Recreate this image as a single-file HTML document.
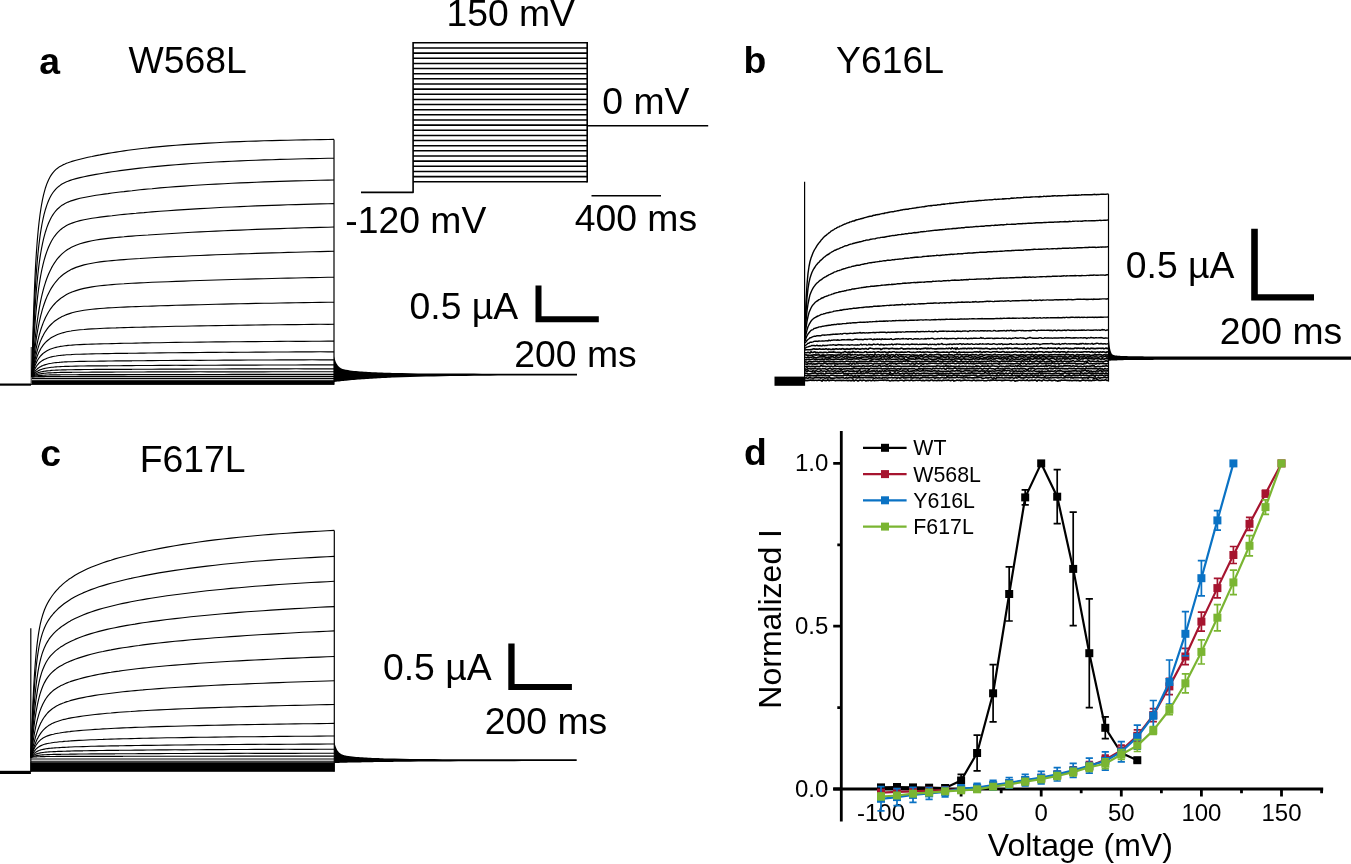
<!DOCTYPE html>
<html><head><meta charset="utf-8"><title>Figure</title>
<style>html,body{margin:0;padding:0;background:#fff}svg{display:block;will-change:transform}text{font-family:"Liberation Sans", sans-serif;fill:#000}</style></head><body>
<svg width="1351" height="864" viewBox="0 0 1351 864">
<rect width="1351" height="864" fill="#fff"/>
<g id="panel-a" stroke-linejoin="round">
<text x="39.19" y="73.5" font-size="37.33" font-weight="700">a</text>
<text x="128.54" y="73.3" font-size="37.33">W568L</text>
<line x1="413.1" y1="42.8" x2="587.2" y2="42.8" stroke="#000" stroke-width="1.55"/>
<line x1="413.1" y1="47.9" x2="587.2" y2="47.9" stroke="#000" stroke-width="1.55"/>
<line x1="413.1" y1="53.1" x2="587.2" y2="53.1" stroke="#000" stroke-width="1.55"/>
<line x1="413.1" y1="58.2" x2="587.2" y2="58.2" stroke="#000" stroke-width="1.55"/>
<line x1="413.1" y1="63.4" x2="587.2" y2="63.4" stroke="#000" stroke-width="1.55"/>
<line x1="413.1" y1="68.5" x2="587.2" y2="68.5" stroke="#000" stroke-width="1.55"/>
<line x1="413.1" y1="73.7" x2="587.2" y2="73.7" stroke="#000" stroke-width="1.55"/>
<line x1="413.1" y1="78.8" x2="587.2" y2="78.8" stroke="#000" stroke-width="1.55"/>
<line x1="413.1" y1="84" x2="587.2" y2="84" stroke="#000" stroke-width="1.55"/>
<line x1="413.1" y1="89.1" x2="587.2" y2="89.1" stroke="#000" stroke-width="1.55"/>
<line x1="413.1" y1="94.2" x2="587.2" y2="94.2" stroke="#000" stroke-width="1.55"/>
<line x1="413.1" y1="99.4" x2="587.2" y2="99.4" stroke="#000" stroke-width="1.55"/>
<line x1="413.1" y1="104.5" x2="587.2" y2="104.5" stroke="#000" stroke-width="1.55"/>
<line x1="413.1" y1="109.7" x2="587.2" y2="109.7" stroke="#000" stroke-width="1.55"/>
<line x1="413.1" y1="114.8" x2="587.2" y2="114.8" stroke="#000" stroke-width="1.55"/>
<line x1="413.1" y1="120" x2="587.2" y2="120" stroke="#000" stroke-width="1.55"/>
<line x1="413.1" y1="125.1" x2="587.2" y2="125.1" stroke="#000" stroke-width="1.55"/>
<line x1="413.1" y1="130.3" x2="587.2" y2="130.3" stroke="#000" stroke-width="1.55"/>
<line x1="413.1" y1="135.4" x2="587.2" y2="135.4" stroke="#000" stroke-width="1.55"/>
<line x1="413.1" y1="140.5" x2="587.2" y2="140.5" stroke="#000" stroke-width="1.55"/>
<line x1="413.1" y1="145.7" x2="587.2" y2="145.7" stroke="#000" stroke-width="1.55"/>
<line x1="413.1" y1="150.8" x2="587.2" y2="150.8" stroke="#000" stroke-width="1.55"/>
<line x1="413.1" y1="156" x2="587.2" y2="156" stroke="#000" stroke-width="1.55"/>
<line x1="413.1" y1="161.1" x2="587.2" y2="161.1" stroke="#000" stroke-width="1.55"/>
<line x1="413.1" y1="166.3" x2="587.2" y2="166.3" stroke="#000" stroke-width="1.55"/>
<line x1="413.1" y1="171.4" x2="587.2" y2="171.4" stroke="#000" stroke-width="1.55"/>
<line x1="413.1" y1="176.6" x2="587.2" y2="176.6" stroke="#000" stroke-width="1.55"/>
<line x1="413.1" y1="181.7" x2="587.2" y2="181.7" stroke="#000" stroke-width="1.55"/>
<polyline points="361,192.4 413.1,192.4 413.1,42.1" fill="none" stroke="#000" stroke-width="1.6" />
<polyline points="587.2,42.1 587.2,182.4" fill="none" stroke="#000" stroke-width="1.6" />
<polyline points="587.2,125.8 708.2,125.8" fill="none" stroke="#000" stroke-width="1.6" />
<polyline points="591.5,195.8 661,195.8" fill="none" stroke="#000" stroke-width="1.6" />
<text x="446.39" y="26.0" font-size="37.33">150 mV</text>
<text x="602.36" y="114.3" font-size="37.33">0 mV</text>
<text x="345.29" y="233.2" font-size="37.33">-120 mV</text>
<text x="574.71" y="231.4" font-size="37.33">400 ms</text>
<path d="M535.5 285.5h6v30.7h57.3v6h-63.3z" fill="#000"/>
<text x="409.54" y="318.9" font-size="37.33">0.5 µA</text>
<text x="514.25" y="367.3" font-size="37.33">200 ms</text>
<polyline points="0,384.6 31,384.6" fill="none" stroke="#000" stroke-width="2.2" />
<rect x="30.9" y="380.7" width="303.1" height="4.2" fill="#000"/>
<polyline points="31.3,384 31.3,347" fill="none" stroke="#555" stroke-width="1.3" />
<polyline points="32,376.9 32.5,353.1 33,332.9 33.5,315.7 34,301 34.5,288.2 35,277.1 35.5,267.4 36,258.7 36.5,251.1 37,244.2 37.5,238.1 38,232.5 38.5,227.4 39,222.8 39.5,218.7 40,214.8 40.5,211.3 41,208 41.5,205 42,202.3 42.5,199.7 43,197.3 43.5,195.1 44,193.1 45.5,187.7 47,183.4 48.5,179.9 50,177 51.5,174.6 53,172.6 54.5,170.9 56,169.4 57.5,168.2 59,167.1 60.5,166.2 62,165.4 63.5,164.6 65,164 66.5,163.3 68,162.8 69.5,162.2 71,161.7 72,161.4 76,160.3 80,159.2 84,158.2 88,157.3 92,156.5 96,155.6 100,154.9 104,154.1 108,153.4 112,152.7 116,152.1 120,151.5 124,150.9 128,150.3 132,149.8 136,149.3 140,148.8 144,148.3 148,147.9 152,147.4 160,146.6 168,145.9 176,145.2 184,144.6 192,144.1 200,143.6 208,143.1 216,142.7 224,142.3 232,141.9 240,141.6 248,141.3 256,141.1 264,140.8 272,140.6 280,140.4 288,140.2 296,140 304,139.9 312,139.7 320,139.6 328,139.5 334,139.4" fill="none" stroke="#000" stroke-width="1.15" />
<polyline points="32,376.9 32.5,358 33,341.6 33.5,327.3 34,314.8 34.5,303.8 35,294 35.5,285.4 36,277.6 36.5,270.6 37,264.3 37.5,258.5 38,253.3 38.5,248.5 39,244.1 39.5,240.1 40,236.4 40.5,232.9 41,229.8 41.5,226.8 42,224 42.5,221.5 43,219.1 43.5,216.8 44,214.7 45.5,209.2 47,204.6 48.5,200.7 50,197.5 51.5,194.8 53,192.5 54.5,190.6 56,188.9 57.5,187.4 59,186.2 60.5,185.1 62,184.1 63.5,183.3 65,182.5 66.5,181.8 68,181.2 69.5,180.6 71,180.1 72,179.8 76,178.6 80,177.6 84,176.7 88,175.9 92,175.1 96,174.4 100,173.7 104,173 108,172.4 112,171.8 116,171.2 120,170.6 124,170.1 128,169.6 132,169.1 136,168.6 140,168.1 144,167.7 148,167.3 152,166.9 160,166.1 168,165.4 176,164.7 184,164.1 192,163.5 200,163 208,162.5 216,162 224,161.6 232,161.2 240,160.9 248,160.5 256,160.2 264,159.9 272,159.7 280,159.4 288,159.2 296,159 304,158.8 312,158.6 320,158.5 328,158.3 334,158.2" fill="none" stroke="#000" stroke-width="1.15" />
<polyline points="32,376.9 32.5,362 33,348.9 33.5,337.3 34,326.9 34.5,317.6 35,309.3 35.5,301.8 36,295 36.5,288.8 37,283.2 37.5,278 38,273.3 38.5,268.9 39,264.9 39.5,261.2 40,257.7 40.5,254.5 41,251.5 41.5,248.7 42,246.1 42.5,243.6 43,241.3 43.5,239.2 44,237.1 45.5,231.7 47,227.1 48.5,223.2 50,219.9 51.5,217 53,214.6 54.5,212.5 56,210.6 57.5,209 59,207.7 60.5,206.4 62,205.3 63.5,204.4 65,203.5 66.5,202.8 68,202.1 69.5,201.5 71,200.9 72,200.6 76,199.4 80,198.3 84,197.5 88,196.7 92,196 96,195.3 100,194.7 104,194.1 108,193.6 112,193 116,192.5 120,192 124,191.6 128,191.1 132,190.7 136,190.2 140,189.8 144,189.4 148,189 152,188.7 160,187.9 168,187.3 176,186.6 184,186.1 192,185.5 200,185 208,184.5 216,184.1 224,183.7 232,183.3 240,182.9 248,182.6 256,182.2 264,181.9 272,181.6 280,181.4 288,181.1 296,180.9 304,180.7 312,180.5 320,180.3 328,180.1 334,180" fill="none" stroke="#000" stroke-width="1.15" />
<polyline points="32,376.9 32.5,365.7 33,355.7 33.5,346.6 34,338.3 34.5,330.9 35,324.1 35.5,317.8 36,312.1 36.5,306.9 37,302.1 37.5,297.6 38,293.5 38.5,289.6 39,286.1 39.5,282.8 40,279.6 40.5,276.7 41,274 41.5,271.4 42,269 42.5,266.8 43,264.6 43.5,262.6 44,260.7 45.5,255.5 47,251.1 48.5,247.2 50,243.9 51.5,241 53,238.5 54.5,236.3 56,234.3 57.5,232.6 59,231.1 60.5,229.7 62,228.5 63.5,227.4 65,226.5 66.5,225.6 68,224.8 69.5,224.1 71,223.5 72,223.1 76,221.7 80,220.6 84,219.7 88,219 92,218.3 96,217.7 100,217.1 104,216.6 108,216.1 112,215.7 116,215.2 120,214.8 124,214.4 128,214 132,213.6 136,213.3 140,212.9 144,212.6 148,212.2 152,211.9 160,211.3 168,210.7 176,210.1 184,209.6 192,209.1 200,208.6 208,208.2 216,207.7 224,207.3 232,207 240,206.6 248,206.3 256,205.9 264,205.6 272,205.4 280,205.1 288,204.8 296,204.6 304,204.4 312,204.1 320,203.9 328,203.7 334,203.6" fill="none" stroke="#000" stroke-width="1.15" />
<polyline points="32,376.9 32.5,369.5 33,362.7 33.5,356.4 34,350.6 34.5,345.1 35,340.1 35.5,335.4 36,331 36.5,326.9 37,323 37.5,319.4 38,316 38.5,312.8 39,309.8 39.5,306.9 40,304.3 40.5,301.7 41,299.3 41.5,297 42,294.9 42.5,292.8 43,290.8 43.5,289 44,287.2 45.5,282.3 47,278 48.5,274.3 50,270.9 51.5,267.9 53,265.3 54.5,262.9 56,260.7 57.5,258.7 59,257 60.5,255.4 62,253.9 63.5,252.6 65,251.4 66.5,250.3 68,249.3 69.5,248.4 71,247.5 72,247 76,245.2 80,243.7 84,242.6 88,241.6 92,240.7 96,240 100,239.4 104,238.9 108,238.4 112,237.9 116,237.5 120,237.1 124,236.8 128,236.4 132,236.1 136,235.8 140,235.5 144,235.2 148,235 152,234.7 160,234.2 168,233.7 176,233.2 184,232.7 192,232.3 200,231.9 208,231.5 216,231.1 224,230.8 232,230.4 240,230.1 248,229.7 256,229.4 264,229.1 272,228.9 280,228.6 288,228.3 296,228.1 304,227.8 312,227.6 320,227.4 328,227.2 334,227" fill="none" stroke="#000" stroke-width="1.15" />
<polyline points="32,376.9 32.5,371.2 33,365.9 33.5,361 34,356.3 34.5,352 35,348 35.5,344.2 36,340.7 36.5,337.4 37,334.2 37.5,331.3 38,328.5 38.5,325.9 39,323.4 39.5,321 40,318.8 40.5,316.7 41,314.7 41.5,312.8 42,310.9 42.5,309.2 43,307.6 43.5,306 44,304.5 45.5,300.3 47,296.6 48.5,293.4 50,290.5 51.5,287.9 53,285.6 54.5,283.5 56,281.6 57.5,279.8 59,278.2 60.5,276.8 62,275.5 63.5,274.3 65,273.2 66.5,272.2 68,271.3 69.5,270.4 71,269.6 72,269.1 76,267.4 80,266.1 84,264.9 88,264 92,263.2 96,262.5 100,261.9 104,261.4 108,261 112,260.6 116,260.2 120,259.9 124,259.6 128,259.3 132,259 136,258.7 140,258.5 144,258.2 148,258 152,257.8 160,257.3 168,256.9 176,256.5 184,256.2 192,255.8 200,255.5 208,255.1 216,254.8 224,254.5 232,254.2 240,253.9 248,253.7 256,253.4 264,253.1 272,252.9 280,252.7 288,252.4 296,252.2 304,252 312,251.8 320,251.6 328,251.4 334,251.3" fill="none" stroke="#000" stroke-width="1.15" />
<polyline points="32,376.9 32.5,372.6 33,368.6 33.5,364.9 34,361.4 34.5,358.1 35,355 35.5,352.1 36,349.4 36.5,346.8 37,344.4 37.5,342.1 38,339.9 38.5,337.8 39,335.9 39.5,334 40,332.3 40.5,330.6 41,329 41.5,327.5 42,326.1 42.5,324.7 43,323.4 43.5,322.1 44,320.9 45.5,317.6 47,314.7 48.5,312 50,309.7 51.5,307.6 53,305.7 54.5,304 56,302.4 57.5,301 59,299.7 60.5,298.5 62,297.4 63.5,296.4 65,295.5 66.5,294.6 68,293.8 69.5,293.1 71,292.4 72,292 76,290.6 80,289.4 84,288.4 88,287.6 92,286.9 96,286.3 100,285.8 104,285.4 108,285 112,284.6 116,284.3 120,284 124,283.8 128,283.5 132,283.3 136,283.1 140,282.9 144,282.7 148,282.5 152,282.3 160,282 168,281.7 176,281.4 184,281.1 192,280.8 200,280.5 208,280.3 216,280 224,279.8 232,279.5 240,279.3 248,279.1 256,278.9 264,278.7 272,278.5 280,278.3 288,278.1 296,278 304,277.8 312,277.6 320,277.5 328,277.3 334,277.2" fill="none" stroke="#000" stroke-width="1.15" />
<polyline points="32,376.9 32.5,373.5 33,370.4 33.5,367.4 34,364.7 34.5,362.1 35,359.7 35.5,357.5 36,355.4 36.5,353.4 37,351.5 37.5,349.8 38,348.1 38.5,346.5 39,345.1 39.5,343.7 40,342.3 40.5,341.1 41,339.9 41.5,338.8 42,337.7 42.5,336.6 43,335.7 43.5,334.7 44,333.8 45.5,331.3 47,329.2 48.5,327.2 50,325.5 51.5,324 53,322.6 54.5,321.3 56,320.2 57.5,319.2 59,318.2 60.5,317.4 62,316.6 63.5,315.9 65,315.2 66.5,314.6 68,314.1 69.5,313.6 71,313.1 72,312.8 76,311.8 80,311 84,310.3 88,309.7 92,309.3 96,308.9 100,308.5 104,308.2 108,307.9 112,307.7 116,307.5 120,307.3 124,307.1 128,306.9 132,306.8 136,306.6 140,306.5 144,306.3 148,306.2 152,306.1 160,305.8 168,305.6 176,305.3 184,305.1 192,304.9 200,304.7 208,304.5 216,304.3 224,304.1 232,303.9 240,303.8 248,303.6 256,303.4 264,303.3 272,303.2 280,303 288,302.9 296,302.8 304,302.6 312,302.5 320,302.4 328,302.3 334,302.2" fill="none" stroke="#000" stroke-width="1.15" />
<polyline points="32,376.9 32.5,374.1 33,371.5 33.5,369.1 34,366.9 34.5,364.9 35,363 35.5,361.3 36,359.7 36.5,358.2 37,356.8 37.5,355.5 38,354.3 38.5,353.1 39,352 39.5,351 40,350.1 40.5,349.2 41,348.3 41.5,347.5 42,346.8 42.5,346.1 43,345.4 43.5,344.7 44,344.1 45.5,342.4 47,341 48.5,339.7 50,338.6 51.5,337.6 53,336.7 54.5,335.9 56,335.2 57.5,334.5 59,334 60.5,333.5 62,333 63.5,332.6 65,332.2 66.5,331.8 68,331.5 69.5,331.2 71,331 72,330.8 76,330.3 80,329.8 84,329.5 88,329.1 92,328.9 96,328.7 100,328.5 104,328.3 108,328.1 112,328 116,327.9 120,327.7 124,327.6 128,327.5 132,327.4 136,327.3 140,327.2 144,327.1 148,327 152,326.9 160,326.7 168,326.5 176,326.3 184,326.2 192,326 200,325.9 208,325.7 216,325.6 224,325.5 232,325.4 240,325.2 248,325.1 256,325 264,324.9 272,324.8 280,324.7 288,324.6 296,324.6 304,324.5 312,324.4 320,324.3 328,324.3 334,324.2" fill="none" stroke="#000" stroke-width="1.15" />
<polyline points="32,376.9 32.5,374.6 33,372.4 33.5,370.5 34,368.8 34.5,367.3 35,365.8 35.5,364.5 36,363.4 36.5,362.3 37,361.3 37.5,360.3 38,359.5 38.5,358.7 39,358 39.5,357.3 40,356.6 40.5,356 41,355.5 41.5,355 42,354.5 42.5,354 43,353.5 43.5,353.1 44,352.7 45.5,351.7 47,350.8 48.5,350 50,349.3 51.5,348.7 53,348.2 54.5,347.8 56,347.4 57.5,347 59,346.7 60.5,346.4 62,346.2 63.5,346 65,345.8 66.5,345.6 68,345.4 69.5,345.3 71,345.2 72,345.1 76,344.8 80,344.6 84,344.4 88,344.3 92,344.1 96,344 100,343.9 104,343.8 108,343.7 112,343.6 116,343.5 120,343.4 124,343.3 128,343.2 132,343.2 136,343.1 140,343 144,342.9 148,342.9 152,342.8 160,342.7 168,342.5 176,342.4 184,342.3 192,342.2 200,342.1 208,342 216,341.9 224,341.9 232,341.8 240,341.7 248,341.6 256,341.6 264,341.5 272,341.5 280,341.4 288,341.3 296,341.3 304,341.3 312,341.2 320,341.2 328,341.1 334,341.1" fill="none" stroke="#000" stroke-width="1.15" />
<polyline points="32,376.9 32.5,375.2 33,373.6 33.5,372.2 34,370.9 34.5,369.8 35,368.8 35.5,367.9 36,367 36.5,366.2 37,365.5 37.5,364.9 38,364.3 38.5,363.7 39,363.2 39.5,362.7 40,362.3 40.5,361.9 41,361.5 41.5,361.1 42,360.8 42.5,360.4 43,360.1 43.5,359.9 44,359.6 45.5,358.9 47,358.2 48.5,357.7 50,357.3 51.5,356.9 53,356.5 54.5,356.2 56,356 57.5,355.7 59,355.5 60.5,355.4 62,355.2 63.5,355.1 65,355 66.5,354.8 68,354.7 69.5,354.7 71,354.6 72,354.5 76,354.3 80,354.2 84,354.1 88,354 92,353.9 96,353.8 100,353.7 104,353.6 108,353.6 112,353.5 116,353.4 120,353.4 124,353.3 128,353.3 132,353.2 136,353.2 140,353.1 144,353.1 148,353 152,353 160,352.9 168,352.8 176,352.7 184,352.6 192,352.6 200,352.5 208,352.4 216,352.4 224,352.3 232,352.3 240,352.2 248,352.2 256,352.1 264,352.1 272,352 280,352 288,352 296,351.9 304,351.9 312,351.9 320,351.8 328,351.8 334,351.8" fill="none" stroke="#000" stroke-width="1.15" />
<polyline points="32,376.9 32.5,375.7 33,374.6 33.5,373.7 34,372.8 34.5,372.1 35,371.4 35.5,370.7 36,370.2 36.5,369.6 37,369.2 37.5,368.7 38,368.3 38.5,367.9 39,367.6 39.5,367.2 40,366.9 40.5,366.7 41,366.4 41.5,366.1 42,365.9 42.5,365.7 43,365.5 43.5,365.3 44,365.1 45.5,364.6 47,364.2 48.5,363.8 50,363.5 51.5,363.3 53,363 54.5,362.8 56,362.6 57.5,362.5 59,362.4 60.5,362.2 62,362.1 63.5,362 65,361.9 66.5,361.9 68,361.8 69.5,361.7 71,361.7 72,361.7 76,361.5 80,361.4 84,361.4 88,361.3 92,361.2 96,361.2 100,361.1 104,361.1 108,361 112,361 116,360.9 120,360.9 124,360.8 128,360.8 132,360.8 136,360.7 140,360.7 144,360.7 148,360.6 152,360.6 160,360.5 168,360.5 176,360.4 184,360.4 192,360.3 200,360.3 208,360.2 216,360.2 224,360.1 232,360.1 240,360.1 248,360 256,360 264,360 272,360 280,359.9 288,359.9 296,359.9 304,359.9 312,359.8 320,359.8 328,359.8 334,359.8" fill="none" stroke="#000" stroke-width="1.15" />
<polyline points="32,376.9 32.5,376.1 33,375.3 33.5,374.7 34,374.1 34.5,373.5 35,373 35.5,372.6 36,372.2 36.5,371.8 37,371.5 37.5,371.2 38,370.9 38.5,370.6 39,370.4 39.5,370.1 40,369.9 40.5,369.7 41,369.5 41.5,369.4 42,369.2 42.5,369 43,368.9 43.5,368.8 44,368.6 45.5,368.3 47,368 48.5,367.7 50,367.5 51.5,367.3 53,367.2 54.5,367 56,366.9 57.5,366.8 59,366.7 60.5,366.6 62,366.5 63.5,366.5 65,366.4 66.5,366.4 68,366.3 69.5,366.3 71,366.2 72,366.2 76,366.1 80,366 84,366 88,365.9 92,365.9 96,365.9 100,365.8 104,365.8 108,365.8 112,365.7 116,365.7 120,365.7 124,365.6 128,365.6 132,365.6 136,365.5 140,365.5 144,365.5 148,365.5 152,365.5 160,365.4 168,365.4 176,365.3 184,365.3 192,365.3 200,365.2 208,365.2 216,365.2 224,365.1 232,365.1 240,365.1 248,365.1 256,365.1 264,365 272,365 280,365 288,365 296,365 304,364.9 312,364.9 320,364.9 328,364.9 334,364.9" fill="none" stroke="#000" stroke-width="1.15" />
<polyline points="32,376.9 32.5,376.3 33,375.8 33.5,375.4 34,375 34.5,374.6 35,374.3 35.5,374 36,373.7 36.5,373.5 37,373.2 37.5,373 38,372.8 38.5,372.6 39,372.5 39.5,372.3 40,372.2 40.5,372 41,371.9 41.5,371.8 42,371.7 42.5,371.6 43,371.5 43.5,371.4 44,371.3 45.5,371.1 47,370.9 48.5,370.7 50,370.6 51.5,370.4 53,370.3 54.5,370.2 56,370.1 57.5,370.1 59,370 60.5,370 62,369.9 63.5,369.9 65,369.8 66.5,369.8 68,369.7 69.5,369.7 71,369.7 72,369.7 76,369.6 80,369.6 84,369.5 88,369.5 92,369.5 96,369.4 100,369.4 104,369.4 108,369.4 112,369.4 116,369.3 120,369.3 124,369.3 128,369.3 132,369.3 136,369.2 140,369.2 144,369.2 148,369.2 152,369.2 160,369.1 168,369.1 176,369.1 184,369.1 192,369 200,369 208,369 216,369 224,369 232,368.9 240,368.9 248,368.9 256,368.9 264,368.9 272,368.9 280,368.9 288,368.9 296,368.8 304,368.8 312,368.8 320,368.8 328,368.8 334,368.8" fill="none" stroke="#000" stroke-width="1.15" />
<polyline points="32,376.9 32.5,376.5 33,376.2 33.5,375.9 34,375.7 34.5,375.4 35,375.2 35.5,375 36,374.9 36.5,374.7 37,374.5 37.5,374.4 38,374.3 38.5,374.2 39,374.1 39.5,374 40,373.9 40.5,373.8 41,373.7 41.5,373.6 42,373.6 42.5,373.5 43,373.4 43.5,373.4 44,373.3 45.5,373.2 47,373 48.5,372.9 50,372.8 51.5,372.8 53,372.7 54.5,372.6 56,372.6 57.5,372.5 59,372.5 60.5,372.4 62,372.4 63.5,372.4 65,372.4 66.5,372.3 68,372.3 69.5,372.3 71,372.3 72,372.3 76,372.2 80,372.2 84,372.2 88,372.2 92,372.1 96,372.1 100,372.1 104,372.1 108,372.1 112,372.1 116,372 120,372 124,372 128,372 132,372 136,372 140,372 144,372 148,371.9 152,371.9 160,371.9 168,371.9 176,371.9 184,371.9 192,371.9 200,371.8 208,371.8 216,371.8 224,371.8 232,371.8 240,371.8 248,371.8 256,371.8 264,371.8 272,371.7 280,371.7 288,371.7 296,371.7 304,371.7 312,371.7 320,371.7 328,371.7 334,371.7" fill="none" stroke="#000" stroke-width="1.15" />
<polyline points="32,376.9 32.5,376.7 33,376.6 33.5,376.4 34,376.3 34.5,376.2 35,376.1 35.5,376 36,375.9 36.5,375.8 37,375.8 37.5,375.7 38,375.6 38.5,375.6 39,375.5 39.5,375.5 40,375.4 40.5,375.4 41,375.4 41.5,375.3 42,375.3 42.5,375.3 43,375.2 43.5,375.2 44,375.2 45.5,375.1 47,375 48.5,375 50,374.9 51.5,374.9 53,374.9 54.5,374.8 56,374.8 57.5,374.8 59,374.8 60.5,374.8 62,374.7 63.5,374.7 65,374.7 66.5,374.7 68,374.7 69.5,374.7 71,374.7 72,374.7 76,374.7 80,374.6 84,374.6 88,374.6 92,374.6 96,374.6 100,374.6 104,374.6 108,374.6 112,374.6 116,374.6 120,374.6 124,374.6 128,374.5 132,374.5 136,374.5 140,374.5 144,374.5 148,374.5 152,374.5 160,374.5 168,374.5 176,374.5 184,374.5 192,374.5 200,374.5 208,374.5 216,374.5 224,374.5 232,374.4 240,374.4 248,374.4 256,374.4 264,374.4 272,374.4 280,374.4 288,374.4 296,374.4 304,374.4 312,374.4 320,374.4 328,374.4 334,374.4" fill="none" stroke="#000" stroke-width="1.15" />
<polyline points="32,376.9 32.5,376.9 33,376.8 33.5,376.8 34,376.8 34.5,376.8 35,376.7 35.5,376.7 36,376.7 36.5,376.7 37,376.7 37.5,376.7 38,376.6 38.5,376.6 39,376.6 39.5,376.6 40,376.6 40.5,376.6 41,376.6 41.5,376.6 42,376.6 42.5,376.6 43,376.6 43.5,376.6 44,376.6 45.5,376.5 47,376.5 48.5,376.5 50,376.5 51.5,376.5 53,376.5 54.5,376.5 56,376.5 57.5,376.5 59,376.5 60.5,376.5 62,376.5 63.5,376.5 65,376.5 66.5,376.5 68,376.5 69.5,376.5 71,376.5 72,376.5 76,376.5 80,376.4 84,376.4 88,376.4 92,376.4 96,376.4 100,376.4 104,376.4 108,376.4 112,376.4 116,376.4 120,376.4 124,376.4 128,376.4 132,376.4 136,376.4 140,376.4 144,376.4 148,376.4 152,376.4 160,376.4 168,376.4 176,376.4 184,376.4 192,376.4 200,376.4 208,376.4 216,376.4 224,376.4 232,376.4 240,376.4 248,376.4 256,376.4 264,376.4 272,376.4 280,376.4 288,376.4 296,376.4 304,376.4 312,376.4 320,376.4 328,376.4 334,376.4" fill="none" stroke="#000" stroke-width="1.15" />
<polyline points="32,378.4 32.5,378.4 33,378.4 33.5,378.4 34,378.4 34.5,378.4 35,378.4 35.5,378.4 36,378.4 36.5,378.4 37,378.4 37.5,378.4 38,378.4 38.5,378.4 39,378.4 39.5,378.4 40,378.4 40.5,378.4 41,378.4 41.5,378.4 42,378.4 42.5,378.4 43,378.4 43.5,378.4 44,378.4 45.5,378.4 47,378.4 48.5,378.4 50,378.4 51.5,378.4 53,378.4 54.5,378.4 56,378.4 57.5,378.4 59,378.4 60.5,378.4 62,378.4 63.5,378.4 65,378.4 66.5,378.4 68,378.4 69.5,378.4 71,378.4 72,378.4 76,378.4 80,378.4 84,378.4 88,378.4 92,378.4 96,378.4 100,378.4 104,378.4 108,378.4 112,378.4 116,378.4 120,378.4 124,378.4 128,378.4 132,378.4 136,378.4 140,378.4 144,378.4 148,378.4 152,378.4 160,378.4 168,378.4 176,378.4 184,378.4 192,378.4 200,378.4 208,378.4 216,378.4 224,378.4 232,378.4 240,378.4 248,378.4 256,378.4 264,378.4 272,378.4 280,378.4 288,378.4 296,378.4 304,378.4 312,378.4 320,378.4 328,378.4 334,378.4" fill="none" stroke="#000" stroke-width="1.15" />
<polyline points="32,380.2 32.5,380.2 33,380.2 33.5,380.2 34,380.2 34.5,380.2 35,380.2 35.5,380.2 36,380.2 36.5,380.2 37,380.2 37.5,380.2 38,380.2 38.5,380.2 39,380.2 39.5,380.2 40,380.2 40.5,380.2 41,380.2 41.5,380.2 42,380.2 42.5,380.2 43,380.2 43.5,380.2 44,380.2 45.5,380.2 47,380.2 48.5,380.2 50,380.2 51.5,380.2 53,380.2 54.5,380.2 56,380.2 57.5,380.2 59,380.2 60.5,380.2 62,380.2 63.5,380.2 65,380.2 66.5,380.2 68,380.2 69.5,380.2 71,380.2 72,380.2 76,380.2 80,380.2 84,380.2 88,380.2 92,380.2 96,380.2 100,380.2 104,380.2 108,380.2 112,380.2 116,380.2 120,380.2 124,380.2 128,380.2 132,380.2 136,380.2 140,380.2 144,380.2 148,380.2 152,380.2 160,380.2 168,380.2 176,380.2 184,380.2 192,380.2 200,380.2 208,380.2 216,380.2 224,380.2 232,380.2 240,380.2 248,380.2 256,380.2 264,380.2 272,380.2 280,380.2 288,380.2 296,380.2 304,380.2 312,380.2 320,380.2 328,380.2 334,380.2" fill="none" stroke="#000" stroke-width="1.15" />
<polyline points="334,139.4 334,384.8" fill="none" stroke="#000" stroke-width="1.2" />
<polygon points="334,356.2 334.5,358.1 335,359.8 335.5,361.2 336,362.4 336.5,363.4 337,364.3 337.5,365.1 338,365.7 338.5,366.3 339,366.8 339.5,367.2 340,367.6 340.5,367.9 341,368.2 341.5,368.4 342,368.7 342.5,368.9 343,369 343.5,369.2 344,369.3 344.5,369.5 345,369.6 345.5,369.7 346,369.8 348,370.1 350,370.4 352,370.7 354,370.9 356,371.1 358,371.2 360,371.4 362,371.5 364,371.7 366,371.8 368,371.9 370,372 372,372.2 374,372.3 376,372.3 378,372.4 380,372.5 382,372.6 384,372.7 386,372.7 388,372.8 390,372.8 392,372.9 394,373 402,373.1 410,373.3 418,373.4 426,373.4 434,373.5 442,373.5 450,373.6 458,373.6 466,373.6 474,373.6 482,373.7 490,373.7 498,373.7 506,373.7 514,373.7 522,373.7 530,373.7 577,373.7 577,375.4 530,375.5 522,375.5 514,375.6 506,375.6 498,375.6 490,375.7 482,375.8 474,375.8 466,375.9 458,376 450,376.1 442,376.2 434,376.4 426,376.6 418,376.8 410,377 402,377.2 394,377.6 392,377.6 390,377.7 388,377.8 386,377.9 384,378 382,378.1 380,378.2 378,378.3 376,378.4 374,378.5 372,378.7 370,378.8 368,378.9 366,379 364,379.2 362,379.3 360,379.5 358,379.6 356,379.8 354,380 352,380.1 350,380.3 348,380.5 346,380.7 345.5,380.7 345,380.8 344.5,380.8 344,380.9 343.5,380.9 343,381 342.5,381 342,381.1 341.5,381.1 341,381.2 340.5,381.3 340,381.3 339.5,381.4 339,381.4 338.5,381.5 338,381.5 337.5,381.6 337,381.6 336.5,381.7 336,381.8 335.5,381.8 335,381.9 334.5,381.9 334,382" fill="#000"/>
</g>
<g id="panel-b" stroke-linejoin="round">
<text x="743.60" y="73.3" font-size="37.33" font-weight="700">b</text>
<text x="836.05" y="73.3" font-size="37.33">Y616L</text>
<path d="M1251.2 228.7h6.6v65.6h56.2v6.1h-62.8z" fill="#000"/>
<text x="1125.79" y="278.0" font-size="37.33">0.5 µA</text>
<text x="1219.80" y="344.3" font-size="37.33">200 ms</text>
<rect x="774.5" y="376.6" width="30.6" height="9.2" fill="#000"/>
<polyline points="804.6,382 804.6,181.7" fill="none" stroke="#000" stroke-width="1.2" />
<polyline points="805,329.8 806,301.4 807,284.2 808,273.4 809,266.5 810,261.5 811,258.1 812,255.4 813,252.8 814,250.7 815,249 816,247.3 817,245.7 818,244.2 819,242.9 820,241.8 821,240.3 822,239.3 823,238.1 824,237.1 825,236.1 826,235.4 827,234.4 828,233.7 829,232.9 830,232.2 831,231.2 832,230.7 833,230.1 834,229.5 835,228.7 836,228.3 837,227.7 838,227.1 839,226.9 840,226.1 841,225.8 842,225.4 843,224.8 844,224.4 845,224 846,223.6 847,223.1 848,222.8 849,222.6 850,221.9 851,221.9 852,221.4 853,221 854,221 855,220.5 856,220 857,219.8 858,219.6 859,219.2 860,219 861,218.7 862,218.5 863,218.3 864,217.8 865,217.6 866,217.3 867,217.1 868,216.7 869,216.5 870,216.3 871,216.2 872,216 873,215.5 874,215.3 875,215.3 876,214.7 877,214.7 878,214.5 879,214.5 880,214.2 881,213.9 882,213.6 883,213.5 884,213.5 885,213 886,212.9 887,212.7 888,212.5 889,212.3 890,212 891,211.9 892,211.7 893,211.7 894,211.5 895,211.2 896,211.1 897,210.8 898,210.8 899,210.5 900,210.4 901,210 902,210 903,209.6 904,209.4 905,209.5 906,209.2 907,209.2 908,209.3 909,208.8 910,208.6 911,208.6 912,208.4 913,208.2 914,208.1 915,208 916,207.9 917,207.5 918,207.5 919,207.4 920,207.1 921,207.1 922,206.8 923,206.9 924,206.7 925,206.5 926,206.3 927,206.2 928,205.9 929,205.8 930,205.9 931,205.5 932,205.7 933,205.3 934,205.4 935,205.1 936,205.2 937,205 938,204.7 939,204.9 940,204.8 941,204.5 942,204.3 943,204.2 944,204 945,204.2 946,203.9 947,203.8 948,203.6 949,203.5 950,203.3 951,203.5 952,203.2 953,203.3 954,203 955,202.9 956,202.8 957,202.7 958,202.6 959,202.5 960,202.4 961,202.2 962,202.1 963,202.3 964,202 965,201.8 966,201.9 967,201.9 968,201.5 969,201.5 970,201.4 971,201.2 972,201.4 973,201.2 974,201.1 975,200.9 976,201 977,200.8 978,200.7 979,200.5 980,200.4 981,200.7 982,200.4 983,200.4 984,200.3 985,200.1 986,200 987,200.1 988,199.9 989,199.9 990,199.8 991,199.9 992,199.7 993,199.6 994,199.4 995,199.2 996,199.5 997,199.4 998,199.2 999,199.2 1000,199.1 1001,199.1 1002,199 1003,198.8 1004,199 1005,198.6 1006,198.7 1007,198.6 1008,198.6 1009,198.7 1010,198.6 1011,198.2 1012,198 1013,198.3 1014,198 1015,198.1 1016,198.1 1017,197.7 1018,197.6 1019,197.9 1020,197.8 1021,197.7 1022,197.6 1023,197.5 1024,197.3 1025,197.4 1026,197.3 1027,197.2 1028,197.4 1029,197.2 1030,197.2 1031,197 1032,197 1033,196.9 1034,196.9 1035,196.9 1036,196.8 1037,196.9 1038,196.8 1039,197 1040,196.5 1041,196.7 1042,196.6 1043,196.5 1044,196.3 1045,196.4 1046,196.5 1047,196.3 1048,196.3 1049,196.2 1050,196.3 1051,196.1 1052,195.8 1053,196 1054,195.8 1055,195.6 1056,195.9 1057,196 1058,195.8 1059,195.7 1060,195.6 1061,195.9 1062,195.7 1063,195.6 1064,195.6 1065,195.6 1066,195.6 1067,195.5 1068,195.5 1069,195.3 1070,195.4 1071,195.2 1072,195.4 1073,195.1 1074,195.2 1075,195.2 1076,195 1077,195.3 1078,195.2 1079,195 1080,195.1 1081,195 1082,194.6 1083,194.9 1084,194.8 1085,194.8 1086,194.7 1087,194.7 1088,194.7 1089,194.8 1090,194.7 1091,194.6 1092,194.8 1093,194.5 1094,194.5 1095,194.3 1096,194.7 1097,194.5 1098,194.5 1099,194.5 1100,194.4 1101,194.3 1102,194.3 1103,194.2 1104,194.2 1105,194.4 1106,194.2 1107,194.1 1108,194 1108.5,194" fill="none" stroke="#000" stroke-width="1.4" />
<polyline points="805,332.3 806,311.2 807,297.6 808,288.6 809,282.3 810,278.1 811,275 812,272.3 813,270.2 814,268.5 815,267 816,265.4 817,264.3 818,263 819,262.2 820,260.9 821,260.1 822,259.3 823,258.2 824,257.3 825,256.6 826,255.8 827,255 828,254.5 829,254 830,253.1 831,252.5 832,251.8 833,251.4 834,250.7 835,250.2 836,250 837,249.2 838,249 839,248.6 840,248.1 841,247.7 842,247.4 843,246.8 844,246.4 845,245.9 846,245.7 847,245.6 848,245.2 849,244.6 850,244.3 851,244.1 852,243.9 853,243.5 854,243.3 855,243 856,242.7 857,242.5 858,242.3 859,242 860,241.8 861,241.7 862,241.3 863,241 864,240.6 865,240.6 866,240.1 867,240 868,240.1 869,239.8 870,239.5 871,239.2 872,239.1 873,238.9 874,238.9 875,238.9 876,238.4 877,238.1 878,237.9 879,237.9 880,237.7 881,237.4 882,237.4 883,237.1 884,237.2 885,237 886,236.8 887,236.5 888,236.4 889,236.2 890,236 891,235.9 892,235.6 893,235.4 894,235.6 895,235.3 896,235.2 897,235.1 898,234.7 899,234.6 900,234.6 901,234.5 902,234.3 903,234.3 904,234.1 905,233.8 906,233.7 907,233.7 908,233.6 909,233.2 910,233.4 911,233.2 912,233.2 913,232.8 914,232.7 915,232.5 916,232.8 917,232.4 918,232.5 919,232.1 920,232.1 921,231.7 922,231.8 923,231.8 924,231.4 925,231.6 926,231.4 927,231.1 928,231.1 929,231 930,230.9 931,230.7 932,230.6 933,230.5 934,230.4 935,230.2 936,230.3 937,230.3 938,229.9 939,230 940,229.8 941,229.6 942,229.8 943,229.5 944,229.6 945,229.3 946,229.3 947,229.1 948,229 949,229 950,228.9 951,228.9 952,228.7 953,228.5 954,228.5 955,228.4 956,228.5 957,228.1 958,228.2 959,227.9 960,228.1 961,227.8 962,227.6 963,227.7 964,227.8 965,227.4 966,227.3 967,227.3 968,227.2 969,227.3 970,227.1 971,227 972,227.1 973,226.8 974,226.9 975,226.6 976,226.5 977,226.4 978,226.7 979,226.4 980,226.4 981,226.3 982,226.2 983,226.2 984,226.3 985,225.9 986,225.8 987,225.7 988,225.6 989,225.8 990,225.8 991,225.5 992,225.4 993,225.4 994,225.6 995,225 996,225.3 997,225.1 998,225.2 999,224.9 1000,225 1001,224.7 1002,224.7 1003,225 1004,224.8 1005,224.6 1006,224.5 1007,224.3 1008,224.4 1009,224.4 1010,224.4 1011,224.3 1012,224.1 1013,224.2 1014,224.1 1015,224.2 1016,224.2 1017,223.9 1018,223.8 1019,223.8 1020,223.7 1021,223.7 1022,223.7 1023,223.5 1024,223.6 1025,223.5 1026,223.5 1027,223.4 1028,223.3 1029,223.2 1030,223.2 1031,223.1 1032,223.2 1033,223.1 1034,222.9 1035,223 1036,222.8 1037,222.8 1038,222.8 1039,222.6 1040,222.8 1041,222.7 1042,222.7 1043,222.6 1044,222.5 1045,222.4 1046,222.5 1047,222.4 1048,222.4 1049,222.2 1050,222.3 1051,222.3 1052,222.2 1053,222.1 1054,222.2 1055,221.9 1056,222.1 1057,222 1058,222 1059,222 1060,221.8 1061,221.8 1062,221.9 1063,221.8 1064,221.7 1065,221.5 1066,221.7 1067,221.7 1068,221.7 1069,221.5 1070,221.3 1071,221.6 1072,221.4 1073,221.1 1074,221.4 1075,221.1 1076,221.1 1077,221.1 1078,221.3 1079,221.1 1080,221.1 1081,221.3 1082,221.2 1083,221 1084,220.9 1085,220.8 1086,220.8 1087,220.9 1088,220.9 1089,220.8 1090,220.9 1091,220.6 1092,220.7 1093,220.8 1094,220.7 1095,220.7 1096,220.6 1097,220.5 1098,220.6 1099,220.4 1100,220.3 1101,220.5 1102,220.4 1103,220.4 1104,220.1 1105,220.3 1106,220.2 1107,220.1 1108,219.9 1108.5,220.2" fill="none" stroke="#000" stroke-width="1.4" />
<polyline points="805,334.5 806,320.7 807,310.9 808,304 809,299 810,294.7 811,292.2 812,290 813,288.1 814,286.7 815,285.3 816,284.1 817,283.1 818,282.2 819,281.2 820,280.4 821,279.8 822,279.2 823,278.3 824,277.6 825,277 826,276.6 827,275.9 828,275.5 829,274.7 830,274.3 831,273.8 832,273.4 833,273 834,272.2 835,271.9 836,271.6 837,271.1 838,270.6 839,270.6 840,270.1 841,269.8 842,269.3 843,269.2 844,268.7 845,268.6 846,268.1 847,267.8 848,267.6 849,267.2 850,267.1 851,266.8 852,266.4 853,266.3 854,266 855,265.9 856,265.5 857,265.3 858,265.3 859,265.2 860,265 861,264.6 862,264.4 863,264.3 864,264 865,263.7 866,263.6 867,263.5 868,263.2 869,262.9 870,262.8 871,262.8 872,262.5 873,262.4 874,262.3 875,262.2 876,261.9 877,261.9 878,261.6 879,261.5 880,261.3 881,261.4 882,261.1 883,260.9 884,260.8 885,260.7 886,260.7 887,260.3 888,260.2 889,260.2 890,260.4 891,260.1 892,259.8 893,259.8 894,259.9 895,259.5 896,259.4 897,259.4 898,259.2 899,259.1 900,258.9 901,259.1 902,258.9 903,258.7 904,258.6 905,258.2 906,258.4 907,258.2 908,258.2 909,258.1 910,257.9 911,257.6 912,257.8 913,257.5 914,257.5 915,257.3 916,257.3 917,257 918,257.3 919,257.1 920,257.1 921,257.1 922,256.8 923,256.5 924,256.5 925,256.4 926,256.4 927,256.3 928,256 929,256.2 930,255.9 931,256 932,255.9 933,255.8 934,255.7 935,255.6 936,255.5 937,255.3 938,255.4 939,255.5 940,255.5 941,255.3 942,255.2 943,254.9 944,255.1 945,254.8 946,254.8 947,254.7 948,254.6 949,254.5 950,254.5 951,254.3 952,254.3 953,254.5 954,254.2 955,254.1 956,254.1 957,254 958,253.8 959,253.8 960,253.9 961,253.7 962,253.6 963,253.7 964,253.4 965,253.4 966,253.3 967,253.4 968,253 969,253 970,253 971,253.1 972,253 973,253 974,252.6 975,252.8 976,252.6 977,252.5 978,252.6 979,252.4 980,252.2 981,252.3 982,252.1 983,252.2 984,252.2 985,252.2 986,252.2 987,252 988,251.8 989,251.8 990,251.7 991,251.6 992,251.8 993,251.6 994,251.3 995,251.6 996,251.5 997,251.5 998,251.4 999,251.4 1000,251.3 1001,251.3 1002,251.2 1003,251.1 1004,251.1 1005,250.8 1006,250.9 1007,250.8 1008,250.8 1009,250.6 1010,250.9 1011,250.7 1012,250.5 1013,250.4 1014,250.5 1015,250.4 1016,250.3 1017,250.4 1018,250.2 1019,250.3 1020,250.1 1021,250.2 1022,250.2 1023,250.4 1024,249.9 1025,249.9 1026,249.8 1027,250 1028,249.7 1029,249.7 1030,249.7 1031,249.6 1032,249.5 1033,249.5 1034,249.3 1035,249.3 1036,249.4 1037,249.4 1038,249.3 1039,249.1 1040,249.2 1041,249.3 1042,249.3 1043,249.1 1044,249 1045,249.1 1046,248.9 1047,248.8 1048,248.8 1049,249.1 1050,248.9 1051,248.9 1052,248.7 1053,248.8 1054,248.6 1055,248.6 1056,248.9 1057,248.7 1058,248.5 1059,248.5 1060,248.5 1061,248.6 1062,248.3 1063,248.1 1064,248.3 1065,248.3 1066,248.2 1067,248.3 1068,248.2 1069,248.2 1070,247.9 1071,248.1 1072,248.2 1073,248.1 1074,248 1075,247.9 1076,248.1 1077,247.7 1078,247.8 1079,247.8 1080,247.8 1081,247.6 1082,247.7 1083,247.6 1084,247.6 1085,247.5 1086,247.4 1087,247.5 1088,247.5 1089,247.3 1090,247.3 1091,247.4 1092,247.2 1093,247.3 1094,247.1 1095,247.3 1096,247.5 1097,247.4 1098,247.1 1099,247.2 1100,247.1 1101,247 1102,247.2 1103,246.8 1104,247.1 1105,246.9 1106,247 1107,246.9 1108,246.7 1108.5,246.8" fill="none" stroke="#000" stroke-width="1.4" />
<polyline points="805,336.8 806,327.9 807,321.4 808,316.5 809,312.6 810,310.2 811,308 812,306.2 813,304.8 814,303.8 815,302.6 816,301.7 817,301 818,300.5 819,299.6 820,299.3 821,298.5 822,298 823,297.8 824,297.2 825,296.6 826,296.3 827,296 828,295.7 829,295.1 830,294.9 831,294.6 832,294.1 833,293.9 834,293.5 835,293.1 836,292.8 837,292.6 838,292.4 839,292 840,291.8 841,291.7 842,291.4 843,291.2 844,291 845,290.7 846,290.7 847,290.1 848,290.1 849,289.8 850,289.8 851,289.6 852,289 853,288.9 854,289 855,288.8 856,288.6 857,288.4 858,288.3 859,288.1 860,287.9 861,287.9 862,287.4 863,287.6 864,287.2 865,287.3 866,287 867,286.8 868,286.9 869,286.6 870,286.5 871,286.3 872,286.3 873,286.3 874,286.2 875,286 876,286 877,285.8 878,285.7 879,285.6 880,285.6 881,285.3 882,285.2 883,285.1 884,285.1 885,284.9 886,285 887,284.7 888,284.7 889,284.5 890,284.6 891,284.5 892,284.3 893,284.5 894,284.2 895,284.3 896,284.1 897,283.8 898,283.8 899,283.8 900,283.7 901,283.6 902,283.5 903,283.2 904,283.3 905,283 906,283.3 907,283.1 908,283 909,283 910,283 911,282.7 912,282.6 913,282.6 914,282.4 915,282.5 916,282.7 917,282.3 918,282.5 919,282.2 920,282.3 921,282.2 922,282.1 923,282.1 924,282.2 925,282 926,281.9 927,281.7 928,281.8 929,281.7 930,281.7 931,281.6 932,281.7 933,281.2 934,281.4 935,281.4 936,281.2 937,281.1 938,281.1 939,280.9 940,281.1 941,281.3 942,281.1 943,280.8 944,280.7 945,280.7 946,280.8 947,280.6 948,280.5 949,280.7 950,280.6 951,280.4 952,280.3 953,280.2 954,280.2 955,280 956,280.3 957,280.1 958,280.2 959,280.3 960,280.1 961,279.8 962,280 963,280 964,279.7 965,279.6 966,279.7 967,279.5 968,279.8 969,279.3 970,279.4 971,279.4 972,279.4 973,279.4 974,279.4 975,279.3 976,279.4 977,278.9 978,279.1 979,279 980,279.1 981,279 982,278.9 983,278.9 984,279 985,278.9 986,278.7 987,279 988,279 989,278.5 990,278.7 991,278.9 992,278.6 993,278.5 994,278.4 995,278.4 996,278.4 997,278.3 998,278.4 999,278.2 1000,278.2 1001,278 1002,278.1 1003,278 1004,278 1005,278.1 1006,278 1007,278 1008,277.9 1009,277.9 1010,277.8 1011,277.8 1012,277.8 1013,277.6 1014,277.8 1015,277.6 1016,277.5 1017,277.5 1018,277.4 1019,277.5 1020,277.4 1021,277.6 1022,277.3 1023,277.1 1024,277.2 1025,277 1026,277.2 1027,277.3 1028,277.3 1029,277 1030,277 1031,277.3 1032,277.1 1033,277 1034,277.1 1035,277.2 1036,277.1 1037,276.9 1038,276.9 1039,276.9 1040,276.7 1041,276.6 1042,276.7 1043,276.6 1044,276.6 1045,276.6 1046,276.9 1047,276.4 1048,276.5 1049,276.5 1050,276.5 1051,276.6 1052,276.3 1053,276.3 1054,276.1 1055,276.2 1056,276.3 1057,276.3 1058,276.1 1059,276.1 1060,276.2 1061,276.2 1062,276 1063,276 1064,275.8 1065,275.9 1066,276.2 1067,275.7 1068,275.9 1069,275.9 1070,275.8 1071,275.7 1072,275.8 1073,275.8 1074,275.8 1075,275.5 1076,275.7 1077,275.6 1078,275.6 1079,275.7 1080,275.7 1081,275.7 1082,275.5 1083,275.6 1084,275.6 1085,275.6 1086,275.6 1087,275.4 1088,275.4 1089,275.5 1090,275.2 1091,275.3 1092,275.2 1093,275.2 1094,275 1095,275.1 1096,275.2 1097,275.3 1098,275.3 1099,275.1 1100,275.1 1101,275 1102,275.1 1103,275 1104,275.1 1105,275.2 1106,275 1107,274.8 1108,274.8 1108.5,274.7" fill="none" stroke="#000" stroke-width="1.4" />
<polyline points="805,338.9 806,334.1 807,330.1 808,326.8 809,324.7 810,322.9 811,321.2 812,319.9 813,319 814,318.2 815,317.6 816,317 817,316.5 818,316 819,315.6 820,315.1 821,314.5 822,314.4 823,314.1 824,313.7 825,313.6 826,313.2 827,312.8 828,312.9 829,312.5 830,312.3 831,312.1 832,311.9 833,311.6 834,311.1 835,311.1 836,310.9 837,310.7 838,310.6 839,310.6 840,310.2 841,310 842,310.2 843,309.7 844,309.5 845,309.5 846,309.4 847,309.1 848,309.2 849,308.9 850,308.7 851,308.7 852,308.6 853,308.3 854,308.3 855,308.2 856,308.4 857,307.9 858,308 859,307.7 860,307.6 861,307.6 862,307.5 863,307.5 864,307.3 865,307.1 866,307 867,307 868,307 869,307 870,306.8 871,306.8 872,306.7 873,306.5 874,306.2 875,306.2 876,306.1 877,306.4 878,306 879,306.2 880,306 881,306.1 882,305.9 883,305.7 884,305.7 885,305.6 886,305.6 887,305.4 888,305.4 889,305.6 890,305.1 891,305.3 892,305.1 893,305.1 894,305.2 895,305 896,305 897,304.7 898,305 899,304.7 900,304.8 901,304.7 902,304.3 903,304.5 904,304.6 905,304.7 906,304.5 907,304.4 908,304.2 909,304.5 910,304.5 911,304.2 912,304.1 913,303.9 914,304.2 915,304.3 916,304.1 917,304.1 918,303.9 919,303.7 920,304 921,303.6 922,303.7 923,303.7 924,303.7 925,303.6 926,303.6 927,303.4 928,303.3 929,303.4 930,303.3 931,303.2 932,303.2 933,303.2 934,303 935,303 936,303 937,303.1 938,303.1 939,303.3 940,302.8 941,302.9 942,303 943,302.9 944,302.8 945,303 946,302.7 947,302.6 948,302.6 949,302.7 950,302.7 951,302.5 952,302.5 953,302.6 954,302.6 955,302.4 956,302.5 957,302.5 958,302.2 959,302.3 960,302.4 961,302.2 962,302 963,302.2 964,302.3 965,302.3 966,301.9 967,302.4 968,301.9 969,302.2 970,302.2 971,302.1 972,302 973,301.8 974,302 975,301.8 976,301.5 977,302.1 978,301.9 979,302 980,301.6 981,301.9 982,301.8 983,301.8 984,301.6 985,301.4 986,301.5 987,301.2 988,301.3 989,301.5 990,301.3 991,301.4 992,301.4 993,301.6 994,301.5 995,301.3 996,301.4 997,301.1 998,301.2 999,301.3 1000,301 1001,301.1 1002,300.9 1003,301.1 1004,301.2 1005,300.9 1006,301 1007,300.9 1008,300.8 1009,300.8 1010,301.1 1011,301.2 1012,300.9 1013,300.7 1014,300.9 1015,300.7 1016,300.8 1017,300.8 1018,300.7 1019,300.8 1020,300.6 1021,300.6 1022,300.4 1023,300.5 1024,300.4 1025,300.5 1026,300.4 1027,300.5 1028,300.5 1029,300.3 1030,300.3 1031,300.3 1032,300.5 1033,300.6 1034,300.4 1035,300.3 1036,300.5 1037,300.1 1038,300.4 1039,300.1 1040,299.9 1041,300.5 1042,300.3 1043,300 1044,300.1 1045,300.1 1046,300.1 1047,299.9 1048,299.9 1049,300.1 1050,300 1051,300.1 1052,299.9 1053,300.2 1054,299.8 1055,299.9 1056,299.6 1057,299.7 1058,300 1059,299.7 1060,299.8 1061,299.7 1062,299.6 1063,299.7 1064,299.6 1065,299.6 1066,299.7 1067,299.7 1068,299.5 1069,299.5 1070,299.6 1071,299.5 1072,299.7 1073,299.8 1074,299.6 1075,299.5 1076,299.4 1077,299.3 1078,299.3 1079,299.3 1080,299.3 1081,299.3 1082,299.4 1083,299.3 1084,299.3 1085,299.2 1086,299.5 1087,299.3 1088,299.5 1089,299.3 1090,299.4 1091,299.2 1092,299.3 1093,299.5 1094,299 1095,299.3 1096,299.3 1097,299.1 1098,299.2 1099,299.2 1100,299 1101,299.1 1102,298.9 1103,298.9 1104,298.9 1105,298.9 1106,299 1107,299 1108,298.7 1108.5,299.1" fill="none" stroke="#000" stroke-width="1.4" />
<polyline points="805,341.4 806,338.3 807,335.8 808,334 809,332.7 810,331.5 811,330.4 812,329.9 813,329.6 814,328.5 815,328.4 816,328 817,327.6 818,327.5 819,326.9 820,326.9 821,326.8 822,326.4 823,326.2 824,326.1 825,325.8 826,325.9 827,325.5 828,325.5 829,325.1 830,325.2 831,325 832,324.6 833,324.8 834,324.5 835,324.5 836,324.6 837,324.1 838,324 839,324.2 840,324 841,324.1 842,323.8 843,323.6 844,323.6 845,323.6 846,323.5 847,323.3 848,323.2 849,323.1 850,323 851,323.2 852,322.9 853,322.7 854,322.7 855,322.8 856,322.7 857,322.6 858,322.4 859,322.4 860,322.2 861,322.2 862,322.4 863,322.1 864,322.2 865,322.2 866,322.1 867,322 868,322.2 869,321.9 870,321.8 871,321.9 872,321.8 873,321.6 874,321.6 875,321.6 876,321.3 877,321.5 878,321.4 879,321.3 880,321.1 881,321.3 882,321.3 883,321.2 884,321 885,321.2 886,321 887,321 888,321.2 889,320.9 890,320.9 891,321.1 892,320.8 893,320.8 894,320.8 895,320.9 896,320.5 897,320.6 898,320.6 899,320.5 900,320.5 901,320.5 902,320.6 903,320.4 904,320.5 905,320.5 906,320.3 907,320.4 908,320.6 909,320.4 910,320.2 911,320.3 912,320.2 913,320.3 914,320.3 915,320.1 916,320.1 917,320.3 918,320 919,320.1 920,319.9 921,319.9 922,319.9 923,320.2 924,319.9 925,319.9 926,319.8 927,319.9 928,319.9 929,319.9 930,320.1 931,319.8 932,319.9 933,319.8 934,319.8 935,319.5 936,319.7 937,319.6 938,319.6 939,319.3 940,319.7 941,319.5 942,319.5 943,319.5 944,319.5 945,319.5 946,319.3 947,319.3 948,319.4 949,319.4 950,319.3 951,319.3 952,319.2 953,319.3 954,319.4 955,319.1 956,319.4 957,319.3 958,319.1 959,319.3 960,319 961,318.9 962,319 963,319.1 964,319 965,319 966,319.1 967,318.8 968,319.1 969,318.8 970,318.9 971,318.9 972,318.8 973,318.8 974,318.8 975,318.9 976,318.9 977,318.9 978,318.7 979,318.7 980,318.7 981,318.8 982,318.5 983,318.9 984,318.7 985,318.6 986,318.7 987,318.8 988,318.7 989,318.8 990,318.6 991,318.8 992,318.7 993,318.6 994,318.7 995,318.6 996,318.5 997,318.4 998,318.5 999,318.6 1000,318.3 1001,318.5 1002,318.5 1003,318.4 1004,318.1 1005,318.4 1006,318.4 1007,318.3 1008,318.3 1009,318 1010,318.4 1011,318.2 1012,318.4 1013,318 1014,318.3 1015,318.2 1016,318.3 1017,318.1 1018,318.1 1019,318.4 1020,318.1 1021,318.1 1022,318.1 1023,318 1024,318.2 1025,318.3 1026,318 1027,317.9 1028,318.2 1029,318.2 1030,318.1 1031,318.1 1032,317.9 1033,318 1034,317.8 1035,317.8 1036,318.1 1037,317.8 1038,318.2 1039,317.9 1040,317.8 1041,318 1042,318.1 1043,317.9 1044,317.7 1045,317.9 1046,318 1047,317.7 1048,317.7 1049,317.9 1050,317.8 1051,317.6 1052,317.7 1053,317.6 1054,317.7 1055,317.7 1056,317.8 1057,317.8 1058,317.5 1059,317.7 1060,317.7 1061,317.7 1062,317.7 1063,317.5 1064,317.5 1065,317.7 1066,317.4 1067,317.3 1068,317.7 1069,317.4 1070,317.5 1071,317.3 1072,317.3 1073,317.3 1074,317.4 1075,317.5 1076,317.2 1077,317.5 1078,317.3 1079,317.3 1080,317.5 1081,317.4 1082,317.2 1083,317.6 1084,317.2 1085,317.4 1086,317.4 1087,317.5 1088,317.3 1089,317.4 1090,317.2 1091,317.4 1092,317.2 1093,317.2 1094,317.5 1095,317.3 1096,317.2 1097,317.5 1098,317.2 1099,317.1 1100,317.3 1101,317 1102,317.3 1103,317.3 1104,317.1 1105,317.1 1106,317.1 1107,317.1 1108,317 1108.5,317.2" fill="none" stroke="#000" stroke-width="1.4" />
<polyline points="805,343.2 806,341.8 807,340.5 808,339.5 809,338.8 810,337.8 811,337.7 812,337.1 813,336.7 814,336.3 815,336.1 816,336.2 817,335.7 818,335.8 819,335.8 820,335.7 821,335.7 822,335.2 823,334.9 824,335.2 825,335 826,335.1 827,334.8 828,334.9 829,334.8 830,334.7 831,334.5 832,334.5 833,334.3 834,334.3 835,334.4 836,334 837,334.4 838,334 839,334.1 840,333.8 841,333.8 842,334.2 843,333.6 844,333.4 845,333.4 846,333.5 847,333.9 848,333.5 849,333.6 850,333.2 851,333.4 852,333.4 853,333.6 854,333 855,333.3 856,333.2 857,332.9 858,333 859,332.9 860,332.5 861,333 862,333 863,332.8 864,332.6 865,333.1 866,332.8 867,332.9 868,333 869,332.6 870,332.8 871,332.6 872,332.6 873,332.5 874,332.5 875,332.7 876,332.5 877,332.4 878,332.4 879,332.5 880,332.2 881,332.3 882,332.3 883,332.2 884,332.3 885,332.2 886,332.7 887,332.5 888,332.3 889,332.2 890,332.6 891,332.2 892,332.1 893,332.2 894,332.2 895,332.4 896,332 897,332.5 898,331.8 899,332.1 900,331.8 901,332.3 902,331.9 903,331.9 904,332.1 905,332.1 906,331.7 907,331.8 908,331.6 909,331.9 910,331.8 911,331.7 912,331.6 913,331.7 914,331.6 915,331.8 916,332 917,331.3 918,331.7 919,331.6 920,331.8 921,331.5 922,331.6 923,331.4 924,331.7 925,331.6 926,331.5 927,331.6 928,331.5 929,331.2 930,331.6 931,331.6 932,331.5 933,331.7 934,331.7 935,331.2 936,331.3 937,331.7 938,331.7 939,331.3 940,331.2 941,331.3 942,331.3 943,331 944,331.3 945,331.1 946,331.1 947,331.5 948,331.2 949,331.3 950,331.4 951,331.4 952,331.2 953,331.2 954,331.1 955,331.6 956,331.3 957,331 958,331.2 959,331.3 960,331.3 961,331.5 962,331.4 963,331 964,331.1 965,330.8 966,331.1 967,331.1 968,331.6 969,331.1 970,330.6 971,330.9 972,331.1 973,330.8 974,330.8 975,330.9 976,331.1 977,330.9 978,330.8 979,331.1 980,330.8 981,330.8 982,330.7 983,330.8 984,331 985,330.6 986,330.9 987,331 988,330.8 989,330.9 990,330.6 991,331.1 992,331.1 993,330.9 994,330.5 995,330.6 996,331 997,331.1 998,330.8 999,331 1000,330.6 1001,330.7 1002,330.7 1003,330.8 1004,330.4 1005,330.9 1006,331 1007,330.5 1008,330.4 1009,330.8 1010,330.5 1011,330.2 1012,330.8 1013,330.7 1014,330.5 1015,331.1 1016,330.7 1017,330.5 1018,330.6 1019,330.4 1020,330.4 1021,330.7 1022,330.5 1023,330.5 1024,330.9 1025,330.7 1026,330.7 1027,330.6 1028,330.6 1029,330.8 1030,330.5 1031,330.9 1032,330.3 1033,330.4 1034,330.2 1035,330.4 1036,330.6 1037,330.8 1038,330.3 1039,330.4 1040,330.4 1041,330.3 1042,330.2 1043,330.4 1044,330.1 1045,330.4 1046,330.4 1047,330.3 1048,330.2 1049,330.1 1050,330.7 1051,330.1 1052,330.7 1053,330.5 1054,330.3 1055,330.1 1056,330.5 1057,330.7 1058,330.1 1059,330.2 1060,330.5 1061,330.4 1062,330.7 1063,330.2 1064,330.4 1065,330 1066,330.7 1067,330.1 1068,329.8 1069,330.2 1070,330.2 1071,330.6 1072,330.1 1073,330.2 1074,330.3 1075,330.5 1076,330.2 1077,330.4 1078,330.3 1079,330.1 1080,330.2 1081,330.2 1082,330 1083,330.4 1084,329.9 1085,330.4 1086,330.3 1087,330.1 1088,330 1089,330.1 1090,330.2 1091,330.2 1092,330.2 1093,330.3 1094,330 1095,330.1 1096,329.8 1097,330.2 1098,330.1 1099,330 1100,330.3 1101,330.2 1102,329.5 1103,330 1104,329.7 1105,330.2 1106,330.5 1107,329.9 1108,330 1108.5,329.9" fill="none" stroke="#000" stroke-width="1.4" />
<polyline points="805,346 806,345 807,344.3 808,343.1 809,343.2 810,342.3 811,342.3 812,342.2 813,341.9 814,341.4 815,341.3 816,341.2 817,341.2 818,341.5 819,340.8 820,341.1 821,341.1 822,341 823,340.9 824,341.1 825,340.8 826,340.9 827,340.7 828,341 829,340 830,340.8 831,340.3 832,340.3 833,340.1 834,339.8 835,340.1 836,340 837,340.3 838,339.7 839,340.4 840,340.1 841,340 842,339.8 843,339.8 844,339.6 845,339.8 846,339.9 847,339.8 848,339.5 849,339.7 850,339.5 851,339.8 852,340.2 853,339.8 854,339.6 855,339.2 856,339.3 857,339.2 858,339.7 859,339.4 860,339.5 861,339.4 862,339.5 863,339.8 864,339.3 865,339.3 866,339.2 867,339.6 868,339.1 869,339.1 870,339 871,339 872,339.4 873,339.9 874,339 875,339.5 876,339.3 877,339 878,339.2 879,339.2 880,339 881,339.7 882,338.7 883,339.3 884,339.2 885,339 886,339.2 887,339.3 888,339.1 889,339.2 890,339.2 891,338.6 892,339.4 893,339.6 894,339.3 895,339.3 896,338.7 897,339 898,338.8 899,338.8 900,339.2 901,338.8 902,338.9 903,338.5 904,338.9 905,338.9 906,338.7 907,338.7 908,339.4 909,338.6 910,338.6 911,338.7 912,339.1 913,339.4 914,338.9 915,338.6 916,338.7 917,339.1 918,338.6 919,339.1 920,339.1 921,338.8 922,338.9 923,338.9 924,339.1 925,338.5 926,339 927,338.6 928,338.5 929,338.7 930,338.6 931,338.4 932,338.3 933,338.4 934,339 935,339.1 936,338.8 937,338.9 938,338.5 939,338.6 940,338.7 941,338.3 942,338.4 943,338.6 944,338.5 945,338.3 946,338.7 947,338.5 948,338.8 949,338.6 950,338.5 951,338.6 952,338.5 953,338.4 954,338.4 955,338.7 956,338.7 957,338.8 958,338.1 959,338.4 960,338.4 961,338.5 962,338.4 963,338.3 964,338.6 965,338.5 966,338.1 967,338.8 968,338.7 969,338.3 970,338.6 971,338.2 972,338.7 973,338.3 974,338.2 975,338.3 976,338.2 977,338.4 978,338.4 979,338.4 980,338.2 981,337.4 982,338.4 983,337.9 984,338.4 985,338.6 986,338.4 987,338.2 988,338.3 989,338.3 990,338.2 991,338.1 992,338.1 993,338.6 994,338.3 995,338.5 996,338.2 997,338.3 998,338.2 999,338.4 1000,338.4 1001,338.3 1002,338.1 1003,338 1004,338.6 1005,338.1 1006,338.1 1007,338.6 1008,338.5 1009,338.3 1010,338.1 1011,338.8 1012,338.3 1013,338.3 1014,338.1 1015,337.8 1016,337.8 1017,338.3 1018,338.3 1019,338.1 1020,337.9 1021,337.8 1022,338.1 1023,337.8 1024,338.3 1025,338.4 1026,338.8 1027,338.3 1028,338 1029,337.9 1030,337.2 1031,337.9 1032,338 1033,338.3 1034,338.2 1035,338.2 1036,338.1 1037,338.2 1038,338.4 1039,337.8 1040,337.9 1041,337.7 1042,338.4 1043,338.4 1044,338.2 1045,337.7 1046,338.1 1047,338 1048,338 1049,338 1050,338.1 1051,337.9 1052,338.2 1053,338.1 1054,337.9 1055,338 1056,337.9 1057,338.2 1058,337.9 1059,338 1060,337.9 1061,337.6 1062,338.2 1063,337.7 1064,338.1 1065,338.1 1066,337.5 1067,337.7 1068,337.8 1069,337.7 1070,337.6 1071,338.1 1072,337.9 1073,338 1074,337.8 1075,338 1076,337.7 1077,337.9 1078,338 1079,337.9 1080,337.8 1081,337.6 1082,337.9 1083,338 1084,337.8 1085,337.7 1086,338 1087,338.5 1088,337.8 1089,337.9 1090,338 1091,337.2 1092,337.9 1093,337.7 1094,338.2 1095,337.8 1096,337.6 1097,337.8 1098,337.9 1099,337.7 1100,337.8 1101,337.5 1102,337.8 1103,338 1104,338.3 1105,338 1106,337.9 1107,338.1 1108,338.1 1108.5,338.2" fill="none" stroke="#000" stroke-width="1.4" />
<polyline points="805,348.5 806,347.5 807,347.1 808,346.8 809,346.5 810,346.3 811,345.9 812,345.4 813,345.7 814,345.3 815,345.8 816,345.7 817,345.2 818,345.8 819,345.8 820,345.5 821,345.9 822,346 823,345.1 824,345.7 825,345.5 826,345.4 827,345.5 828,345.1 829,345.1 830,345 831,345 832,345.1 833,344.7 834,344.8 835,345.2 836,345 837,345.2 838,344.5 839,344.8 840,344.8 841,345 842,344.8 843,345.2 844,344.9 845,344.9 846,344.9 847,345.1 848,344.7 849,345.2 850,345 851,344.9 852,344.8 853,344.9 854,345.1 855,345 856,344.9 857,345 858,344.8 859,345.1 860,344.7 861,344.1 862,345.1 863,344.7 864,344.3 865,344.6 866,344.4 867,345.2 868,344.8 869,344.2 870,344.8 871,344.5 872,345.1 873,344.3 874,344 875,344.6 876,344.5 877,344.4 878,344 879,344.7 880,345 881,344 882,344.9 883,344.4 884,345.2 885,344.6 886,344.4 887,344.8 888,344.6 889,344.3 890,344.7 891,344.3 892,344 893,345 894,344.4 895,344.3 896,344.5 897,344 898,344.1 899,344.3 900,344.3 901,344.4 902,344.7 903,344.3 904,344.5 905,344.6 906,344.1 907,344.4 908,344.1 909,344.7 910,344.5 911,344.4 912,344 913,344.4 914,344.1 915,344.5 916,344.3 917,344.1 918,344.6 919,344.5 920,344.2 921,344.6 922,344.2 923,344.2 924,344.3 925,344.1 926,344.2 927,344.2 928,344.7 929,344.7 930,344.2 931,344.7 932,344.3 933,344.4 934,344.5 935,344.3 936,344.9 937,344.3 938,343.9 939,344.6 940,344.1 941,344.1 942,343.4 943,344.5 944,344.4 945,344.4 946,344.5 947,344.7 948,344.2 949,344.5 950,344 951,344.1 952,344.5 953,344.3 954,343.8 955,344.3 956,344.1 957,343.9 958,344.3 959,344 960,343.7 961,343.8 962,344.6 963,343.7 964,344.2 965,344.3 966,344.3 967,343.8 968,344 969,344.2 970,344.3 971,343.9 972,343.8 973,344.4 974,344.4 975,344.2 976,343.9 977,344.2 978,344.1 979,344.3 980,343.7 981,344.1 982,344 983,343.8 984,344.1 985,344.1 986,344 987,344.2 988,343.7 989,344 990,344.2 991,344.1 992,344.4 993,343.7 994,343.6 995,344.1 996,344.2 997,344.6 998,344.2 999,343.8 1000,344.3 1001,343.8 1002,343.6 1003,344.8 1004,344.1 1005,344.2 1006,344.2 1007,344.5 1008,344.1 1009,344.3 1010,343.7 1011,343.6 1012,344.4 1013,344.4 1014,344.1 1015,344.1 1016,344 1017,343.8 1018,344.4 1019,344.2 1020,344.1 1021,344.1 1022,344.3 1023,344.1 1024,344.2 1025,343.6 1026,344.1 1027,344.6 1028,343.8 1029,343.9 1030,344.2 1031,344.2 1032,344.1 1033,343.5 1034,344.1 1035,343.6 1036,343.7 1037,344.1 1038,343.9 1039,344.2 1040,344.8 1041,344.1 1042,344.1 1043,343.7 1044,343.7 1045,343.6 1046,343.8 1047,343.6 1048,343.7 1049,343.9 1050,343.6 1051,343.5 1052,343.5 1053,344 1054,343.9 1055,344.2 1056,344.2 1057,343.8 1058,344.1 1059,343.5 1060,344.5 1061,344.2 1062,343.8 1063,343.6 1064,344 1065,343.4 1066,343.7 1067,344.1 1068,343.9 1069,343.7 1070,344.1 1071,343.6 1072,343.9 1073,343.7 1074,343.6 1075,344 1076,343.6 1077,344.4 1078,343.7 1079,344.4 1080,343.5 1081,344 1082,343.5 1083,343.5 1084,343.9 1085,344 1086,343.5 1087,344.2 1088,343.6 1089,343.9 1090,343.9 1091,344 1092,343.3 1093,344.3 1094,344 1095,343.7 1096,343.5 1097,343.3 1098,343.4 1099,344 1100,343.7 1101,343.5 1102,343.7 1103,344.2 1104,343.7 1105,343.6 1106,344.2 1107,343.9 1108,343.8 1108.5,343.6" fill="none" stroke="#000" stroke-width="1.4" />
<polyline points="805,350 806,349.8 807,349.8 808,349.7 809,349.8 810,349.7 811,349.6 812,349.5 813,349.1 814,348.7 815,349.2 816,349 817,349.1 818,349.2 819,348.9 820,348.9 821,349.2 822,349.2 823,349 824,349.3 825,349.1 826,348.8 827,349.1 828,349.6 829,348.9 830,349.4 831,349.5 832,349.5 833,348.8 834,349.6 835,349 836,348.9 837,348.9 838,349.2 839,349 840,348.9 841,349.3 842,348.7 843,348.6 844,349.2 845,349.1 846,349.2 847,348.6 848,349.2 849,349 850,349.4 851,348.5 852,348.9 853,348.8 854,348.4 855,348.6 856,349.2 857,348.7 858,348.6 859,349.1 860,349.1 861,349.1 862,348.6 863,348.8 864,349.1 865,348.6 866,348.6 867,349 868,349.3 869,348.4 870,348 871,348.3 872,348.5 873,348.7 874,349 875,348.7 876,348.6 877,348.8 878,348.5 879,348.7 880,348.6 881,349.6 882,349 883,348.5 884,348.4 885,348.6 886,348.2 887,348.5 888,348.5 889,349 890,348.6 891,348.5 892,348.3 893,348.4 894,348.7 895,348.6 896,349 897,348.5 898,349 899,348.8 900,348.7 901,348.1 902,348.3 903,348.9 904,349.1 905,348.7 906,348.9 907,348.6 908,348.6 909,348.5 910,349 911,348.8 912,348.6 913,348.6 914,348.8 915,348.8 916,348.4 917,349.2 918,348.7 919,348.6 920,349.1 921,348.9 922,348.6 923,348.8 924,348.3 925,348.4 926,348 927,349 928,348.1 929,348.8 930,348.4 931,348.3 932,348.6 933,348.7 934,348.8 935,349.1 936,348.7 937,348.9 938,348.4 939,348.8 940,348.6 941,348.5 942,348.6 943,348.6 944,348.7 945,348.7 946,348.4 947,348.4 948,348.8 949,348.1 950,348.4 951,349 952,347.8 953,348.4 954,348.8 955,348.1 956,349.4 957,347.8 958,349 959,349 960,348.8 961,348.5 962,348.7 963,348.3 964,348.8 965,348.2 966,348.5 967,348.9 968,348.2 969,348.4 970,348.6 971,348.1 972,348.9 973,348.6 974,348.1 975,348.5 976,348.3 977,348.3 978,348.6 979,348.3 980,348.8 981,348.3 982,348.8 983,348.5 984,348.8 985,348.4 986,348.4 987,348.2 988,348.7 989,348.8 990,349.2 991,348.9 992,348.6 993,348.5 994,348.6 995,348.5 996,349 997,348.8 998,348.3 999,348.3 1000,348.9 1001,348.6 1002,348.4 1003,348.9 1004,348.4 1005,348.4 1006,348.4 1007,347.9 1008,348.8 1009,348.1 1010,348.3 1011,348.3 1012,348.7 1013,348.5 1014,348.5 1015,348 1016,348.5 1017,348 1018,348.6 1019,348.6 1020,348.5 1021,349.1 1022,348.6 1023,348.7 1024,348.5 1025,348.4 1026,348.8 1027,348.8 1028,348.1 1029,348.8 1030,348.6 1031,348.8 1032,348.6 1033,348.1 1034,348.1 1035,349 1036,348.5 1037,348 1038,348.6 1039,348.4 1040,347.9 1041,347.8 1042,348 1043,348.5 1044,348.4 1045,348.4 1046,348.5 1047,348.6 1048,347.8 1049,348.4 1050,348.2 1051,348.1 1052,348.3 1053,348.4 1054,348.4 1055,348 1056,348.3 1057,349 1058,348.1 1059,347.9 1060,348.5 1061,348.6 1062,348.6 1063,348.1 1064,348.7 1065,348.2 1066,348.1 1067,348.3 1068,348.4 1069,348.6 1070,348.6 1071,348.4 1072,348.7 1073,348.5 1074,348.7 1075,348 1076,348 1077,348.7 1078,348 1079,348.3 1080,348.4 1081,348.3 1082,348.3 1083,348.8 1084,347.7 1085,348.7 1086,349.1 1087,348.4 1088,348.4 1089,348.6 1090,349 1091,348.1 1092,348.4 1093,348.4 1094,348.6 1095,348.5 1096,348.6 1097,348.3 1098,348.4 1099,348.2 1100,348.2 1101,348.4 1102,348.4 1103,348.1 1104,348.9 1105,348.4 1106,348 1107,348.7 1108,348.2 1108.5,348.6" fill="none" stroke="#000" stroke-width="1.6" />
<polyline points="805,352.8 806,352.8 807,352.6 808,352.3 809,352.5 810,353.1 811,351.7 812,352.4 813,352.5 814,352 815,351.9 816,353 817,352.2 818,352.9 819,352.5 820,352.3 821,352.4 822,352.5 823,352.6 824,352.4 825,352.3 826,352.3 827,352.7 828,352.5 829,352 830,352.1 831,352.3 832,352.1 833,352.1 834,351.9 835,352.2 836,352.4 837,352.5 838,352.2 839,352.8 840,352.2 841,353.2 842,352.5 843,352.4 844,352.1 845,351.4 846,352.1 847,352.2 848,352.8 849,351.8 850,352.8 851,352.1 852,352.4 853,351.4 854,352.2 855,352.1 856,352.4 857,352.2 858,351.8 859,352.4 860,352.4 861,352.3 862,352.5 863,352.5 864,352.2 865,351.7 866,351.7 867,352.6 868,352.4 869,352.2 870,352 871,352.2 872,352.2 873,352 874,351.9 875,352.8 876,352.2 877,352 878,351.7 879,351.9 880,352.3 881,352.4 882,352.1 883,352.1 884,352 885,351.8 886,352.5 887,352.2 888,352.9 889,351.9 890,352.1 891,352.4 892,352 893,351.7 894,351.8 895,352.1 896,352.2 897,352.1 898,352.4 899,352.4 900,352.2 901,352.1 902,352 903,352.3 904,352.4 905,352.1 906,352.2 907,352 908,351.7 909,351.8 910,352.3 911,352.2 912,352.6 913,352.1 914,352.4 915,352.5 916,352.4 917,351.9 918,352 919,352.1 920,351.8 921,352.2 922,352.4 923,351.9 924,352.7 925,352 926,352 927,352 928,351.9 929,352.2 930,352.1 931,352.6 932,352.3 933,352.2 934,352 935,351.7 936,352.1 937,351.8 938,352.4 939,352.1 940,352.6 941,352.3 942,352.3 943,352.1 944,352.1 945,352.3 946,352.3 947,351.9 948,352.2 949,352.9 950,352 951,352 952,351.9 953,351.6 954,352.4 955,352.1 956,352.2 957,352.6 958,352.8 959,351.8 960,352.4 961,352.2 962,352.2 963,352.2 964,352.1 965,352.5 966,352.2 967,352.2 968,352.4 969,352.3 970,352.2 971,352.2 972,352.6 973,352.2 974,352 975,351.8 976,352 977,351.7 978,352.1 979,352.1 980,351.4 981,352.1 982,352.2 983,352.1 984,351.8 985,352.4 986,351.8 987,351.7 988,351.7 989,352 990,352.3 991,352.4 992,352.1 993,351.7 994,351.8 995,351.8 996,352 997,351.5 998,352.1 999,352.2 1000,352 1001,352.2 1002,351.8 1003,351.6 1004,351.8 1005,352.4 1006,352.3 1007,351.9 1008,352.4 1009,351.9 1010,352.5 1011,352.2 1012,351.9 1013,352.3 1014,351.8 1015,351.8 1016,351.6 1017,352.1 1018,352 1019,352 1020,351.9 1021,352.5 1022,351.9 1023,351.8 1024,352.4 1025,352.5 1026,352.1 1027,351.5 1028,351.8 1029,352.2 1030,352 1031,352.5 1032,351.6 1033,352.2 1034,351.8 1035,352.4 1036,352 1037,352.3 1038,351.8 1039,351.6 1040,351.7 1041,351.8 1042,351.7 1043,352.4 1044,352.4 1045,352.1 1046,351.7 1047,352 1048,351.8 1049,352.5 1050,352.1 1051,352.2 1052,351.9 1053,351.4 1054,351.8 1055,351.7 1056,352.1 1057,352 1058,351.8 1059,351.9 1060,352.5 1061,351.7 1062,351.7 1063,351.9 1064,351.8 1065,351.9 1066,352.2 1067,352.5 1068,351.5 1069,352 1070,352 1071,352 1072,352 1073,351.9 1074,352.3 1075,351.9 1076,352 1077,352 1078,352 1079,352 1080,352.3 1081,352 1082,352.1 1083,352 1084,351.7 1085,351.8 1086,351.7 1087,352.1 1088,351.8 1089,351.7 1090,352.1 1091,352.2 1092,351.5 1093,352.5 1094,352 1095,352 1096,352.3 1097,352 1098,351.8 1099,352.7 1100,351.7 1101,352 1102,352.3 1103,351.7 1104,352 1105,352.1 1106,352.7 1107,351.7 1108,352 1108.5,352.2" fill="none" stroke="#000" stroke-width="1.6" />
<polyline points="805,355.1 806,354.7 807,355.2 808,355.1 809,355.2 810,355.3 811,355.3 812,355.1 813,355.1 814,354.7 815,354.9 816,355.1 817,354.9 818,355 819,354.7 820,355.4 821,355.6 822,354.9 823,355.1 824,354.9 825,355.3 826,355.1 827,355 828,354.9 829,355 830,354.7 831,355.2 832,354.7 833,355.1 834,355 835,355.3 836,355 837,355.3 838,354.7 839,355.1 840,354.9 841,355 842,355 843,355.2 844,354.3 845,355 846,354.5 847,355.3 848,354.4 849,354.6 850,354.4 851,355.4 852,354.6 853,355 854,354.8 855,354.4 856,354.8 857,355.1 858,354.9 859,355.2 860,354.8 861,354.9 862,354.8 863,355 864,355.5 865,355 866,355 867,354.8 868,354.7 869,355.4 870,354.6 871,354.7 872,354.9 873,354.8 874,355.5 875,354.2 876,355 877,355.1 878,354.6 879,354.7 880,355.1 881,355.4 882,354.7 883,354.5 884,355.2 885,355.4 886,354.8 887,354.3 888,355.4 889,354.9 890,355.3 891,354.9 892,354.8 893,354.8 894,355.4 895,355.4 896,354.3 897,354.6 898,355.5 899,354.8 900,354.5 901,354.9 902,354.9 903,354.9 904,354.8 905,354.8 906,354.8 907,355 908,354.7 909,354.8 910,354.9 911,355.3 912,355 913,354.9 914,355.1 915,355 916,355.3 917,355.1 918,355.5 919,355.3 920,354.9 921,354.8 922,355.2 923,355.1 924,354.9 925,354.5 926,354.4 927,355 928,355.2 929,355.2 930,354.5 931,355.2 932,354.8 933,355 934,355 935,354.7 936,354.7 937,354.3 938,354.6 939,354.4 940,355.1 941,354.9 942,355.2 943,355 944,354.7 945,355 946,354.8 947,355.1 948,355 949,354.6 950,354.9 951,354.9 952,354.8 953,355.2 954,355.4 955,354.8 956,354.8 957,354.2 958,354.9 959,354.8 960,354.3 961,355 962,355.1 963,354.7 964,354.8 965,354.6 966,355.1 967,354.5 968,354.8 969,355.5 970,354.9 971,355.1 972,354.9 973,354.6 974,354.9 975,355 976,354.6 977,355 978,355.3 979,355.2 980,354.4 981,354.6 982,354.4 983,355.2 984,355.1 985,355.1 986,354.6 987,354.6 988,354.9 989,354.9 990,354.7 991,355 992,355.1 993,355 994,354.6 995,354.3 996,354.8 997,355 998,354.8 999,354.8 1000,354.7 1001,355.1 1002,354.9 1003,354.9 1004,354.6 1005,354.7 1006,355 1007,354.6 1008,354.5 1009,354.8 1010,355.3 1011,355 1012,355.3 1013,354.9 1014,354.8 1015,354.5 1016,354.7 1017,355.3 1018,355 1019,355.1 1020,355.1 1021,354.9 1022,354.8 1023,354.9 1024,355.1 1025,355 1026,355.1 1027,355 1028,354.7 1029,354.8 1030,354.6 1031,355.2 1032,354.3 1033,354.8 1034,355.6 1035,354.8 1036,354.6 1037,354.9 1038,355.3 1039,354.9 1040,355.1 1041,354.9 1042,354.8 1043,355.9 1044,354.9 1045,354.7 1046,354.8 1047,355 1048,355 1049,355.1 1050,354.9 1051,354.5 1052,355.1 1053,354.8 1054,354.8 1055,354.5 1056,354.7 1057,354.7 1058,354.9 1059,354.5 1060,354.9 1061,354.9 1062,354.6 1063,354.7 1064,354.6 1065,355.2 1066,354.1 1067,354.8 1068,354.4 1069,354.8 1070,355.2 1071,354.7 1072,354.9 1073,354.6 1074,355.5 1075,355.2 1076,355.2 1077,354.5 1078,354.6 1079,355.2 1080,354.8 1081,354.8 1082,355 1083,354.5 1084,355.1 1085,354.9 1086,355 1087,354.7 1088,355.1 1089,354.7 1090,355.2 1091,355.2 1092,355.2 1093,355.1 1094,355.1 1095,354.1 1096,355.2 1097,354.8 1098,354.9 1099,354.8 1100,354.5 1101,354.7 1102,355.1 1103,355.3 1104,354.7 1105,354.6 1106,355.3 1107,354.6 1108,355.5 1108.5,354.9" fill="none" stroke="#000" stroke-width="1.6" />
<polyline points="805,357.1 806,357.6 807,357.8 808,356.8 809,357.7 810,357.1 811,357.6 812,357 813,356.7 814,357.3 815,357.4 816,357.7 817,357.6 818,357.3 819,357 820,356.9 821,357 822,356.8 823,357 824,356.3 825,357.1 826,357.1 827,357.8 828,357.3 829,356.9 830,357.2 831,356.7 832,356.9 833,356.5 834,357.5 835,357.2 836,356.7 837,357 838,357.3 839,357.2 840,357.1 841,356.8 842,356.8 843,357.1 844,357.3 845,356.8 846,356.7 847,357.4 848,356.7 849,357.3 850,357.1 851,357.3 852,357.5 853,357.2 854,357.2 855,356.7 856,356.8 857,357.2 858,357.5 859,357.4 860,357.7 861,357.1 862,357.1 863,357.3 864,357 865,357 866,356.7 867,357.3 868,356.7 869,357.1 870,356.6 871,357.3 872,356.7 873,357.2 874,356.5 875,356.9 876,357.3 877,356.7 878,357 879,356.8 880,356.3 881,357.1 882,357.1 883,356.6 884,357.2 885,356.7 886,356.7 887,357 888,356.8 889,357.7 890,356.5 891,357.2 892,357.3 893,356.4 894,356.5 895,357.1 896,356.8 897,357.1 898,357.3 899,356.9 900,356.7 901,356.1 902,357 903,356.7 904,357.1 905,357 906,356.6 907,357.5 908,357.3 909,357.2 910,356.6 911,356.8 912,356.8 913,356.8 914,356.6 915,357.1 916,357 917,357.1 918,356.8 919,357.3 920,357 921,356.1 922,356.8 923,356.9 924,357.2 925,356.9 926,356.9 927,356.8 928,357.2 929,356.8 930,356.8 931,356.7 932,357.1 933,356.8 934,356.4 935,357.1 936,356.7 937,357.1 938,357.1 939,357.3 940,357.3 941,356.8 942,356.9 943,356.6 944,357.4 945,357.1 946,357.4 947,356.8 948,356.3 949,357.4 950,357 951,357 952,357 953,357.1 954,357.1 955,356.5 956,357.3 957,356.8 958,356.8 959,357.5 960,357.2 961,356.8 962,356.4 963,357 964,357.1 965,356.9 966,356.6 967,356.7 968,356.6 969,357 970,357.2 971,357.2 972,356.7 973,357 974,357.1 975,356.8 976,356.9 977,357.6 978,357 979,357.2 980,356.8 981,356.9 982,356.4 983,356.9 984,357.3 985,357.6 986,357.3 987,357.1 988,356.9 989,356.7 990,356.9 991,357.1 992,356.7 993,357.2 994,356.6 995,356.4 996,356.6 997,356.4 998,356.5 999,357.3 1000,356.9 1001,357 1002,357.3 1003,357.3 1004,356.8 1005,357.3 1006,357 1007,356.9 1008,357.1 1009,356.5 1010,356.7 1011,356.9 1012,357.1 1013,356.8 1014,356.9 1015,357.2 1016,357.3 1017,357.2 1018,357.3 1019,356.8 1020,356.8 1021,357 1022,356.8 1023,356.8 1024,357.4 1025,356.9 1026,356.6 1027,357.1 1028,357.5 1029,356.9 1030,357.3 1031,356.8 1032,356.8 1033,356.7 1034,356.9 1035,357.5 1036,356.6 1037,357.4 1038,356.6 1039,356.8 1040,357.2 1041,357.1 1042,357 1043,356.4 1044,357 1045,356.6 1046,357.7 1047,356.8 1048,357 1049,356.6 1050,356.8 1051,356.5 1052,357.2 1053,356.8 1054,357.1 1055,356.7 1056,356.8 1057,357.3 1058,356.6 1059,356.4 1060,357 1061,356.6 1062,356.8 1063,357.2 1064,356.7 1065,357.2 1066,356.7 1067,357.4 1068,357.3 1069,356.8 1070,356.8 1071,356.7 1072,357 1073,357.3 1074,356.5 1075,357.2 1076,356.5 1077,356.6 1078,356.4 1079,357.5 1080,356.9 1081,357 1082,356.7 1083,357.2 1084,356.3 1085,356.9 1086,357.6 1087,356.8 1088,356.9 1089,357.1 1090,356.7 1091,356.9 1092,357.2 1093,357 1094,357 1095,356.8 1096,357 1097,356.9 1098,357.3 1099,357.1 1100,356.8 1101,356.2 1102,357.1 1103,357.1 1104,356.6 1105,356.3 1106,356.6 1107,357.2 1108,356.6 1108.5,356.8" fill="none" stroke="#000" stroke-width="1.6" />
<polyline points="805,359.8 806,359.9 807,359.5 808,359.4 809,359.2 810,359.8 811,359.6 812,359.3 813,358.9 814,359 815,359.4 816,359 817,359.5 818,359.3 819,359.3 820,359.4 821,359.3 822,358.9 823,359.1 824,359.9 825,358.8 826,359 827,359.5 828,359.1 829,358.9 830,358.8 831,359.3 832,359.4 833,359.6 834,359.2 835,359.4 836,358.8 837,359.2 838,358.9 839,359.2 840,359.3 841,359.4 842,358.8 843,359.5 844,359 845,358.8 846,359 847,358.7 848,359.1 849,359.2 850,359 851,359.2 852,359 853,359.1 854,358.6 855,359.1 856,358.8 857,358.9 858,359 859,359.1 860,358.6 861,358.6 862,359 863,359.2 864,359.2 865,359.3 866,359.4 867,359.2 868,359 869,358.7 870,358.8 871,358.9 872,359.1 873,359.1 874,359 875,359 876,359.2 877,359.1 878,359.1 879,359.1 880,358.9 881,358.7 882,359.2 883,359.2 884,359 885,358.9 886,359.7 887,358.8 888,359 889,359.1 890,358.7 891,359.1 892,359.6 893,359.3 894,359.2 895,359.2 896,359 897,359.3 898,359 899,358.9 900,359 901,359.3 902,359.1 903,359.2 904,358.4 905,359.4 906,359.7 907,359.4 908,358.9 909,358.7 910,359.1 911,358.7 912,359.2 913,358.8 914,359.3 915,359.4 916,358.4 917,359.1 918,358.8 919,358.6 920,358.8 921,358.9 922,359.3 923,358.5 924,359.3 925,359.6 926,359.2 927,359.2 928,359 929,358.6 930,359.1 931,359.1 932,359.2 933,359.8 934,359.2 935,359.1 936,359.4 937,358.6 938,358.6 939,358.9 940,358.8 941,359.2 942,358.9 943,359.5 944,359.4 945,359.2 946,358.9 947,359.2 948,359.2 949,358.7 950,359.1 951,359.2 952,359 953,359.4 954,359.3 955,358.7 956,359 957,358.7 958,359.1 959,358.7 960,359.2 961,359.1 962,359.3 963,358.9 964,358.5 965,359.5 966,358.9 967,359.4 968,359.1 969,359.2 970,359.5 971,359.1 972,359.4 973,358.5 974,359.2 975,358.9 976,358.9 977,359 978,359.1 979,359.4 980,358.4 981,359 982,358.7 983,359.3 984,358.8 985,359.1 986,358.8 987,359.1 988,359.3 989,358.8 990,359 991,358.5 992,359 993,359.2 994,358.8 995,359.3 996,358.3 997,358.4 998,358.5 999,358.8 1000,358.9 1001,358.9 1002,358.9 1003,359.2 1004,358.8 1005,358.6 1006,358.6 1007,359.6 1008,358.2 1009,358.9 1010,359.4 1011,359.1 1012,358.7 1013,358.9 1014,359.2 1015,359.3 1016,358.7 1017,359.2 1018,359 1019,359.3 1020,359.3 1021,358.8 1022,358.5 1023,359 1024,359.5 1025,359.1 1026,359 1027,359.6 1028,358.6 1029,359.2 1030,358.8 1031,358.9 1032,359 1033,359.4 1034,358.6 1035,358.8 1036,358.4 1037,359.1 1038,358.8 1039,359 1040,358.6 1041,358.8 1042,359.2 1043,358.9 1044,359.1 1045,359.1 1046,358.8 1047,358.5 1048,359.2 1049,359 1050,359.2 1051,358.3 1052,358.4 1053,358.3 1054,358.7 1055,359.2 1056,359.1 1057,358.9 1058,359 1059,359.1 1060,358.8 1061,359 1062,359 1063,358.3 1064,358.8 1065,359.3 1066,358.8 1067,358.9 1068,358.7 1069,358.8 1070,359.2 1071,358.8 1072,358.6 1073,358 1074,358.7 1075,358.3 1076,358.4 1077,359.1 1078,359.1 1079,358.3 1080,359.2 1081,359 1082,358.7 1083,359.1 1084,358.4 1085,358.5 1086,358.5 1087,358.6 1088,359.2 1089,358.5 1090,358.6 1091,358.6 1092,359 1093,358.8 1094,359.2 1095,358.7 1096,358.5 1097,358.8 1098,358.9 1099,358.6 1100,359 1101,359.4 1102,358.7 1103,358.9 1104,359.3 1105,358.7 1106,358.6 1107,358.6 1108,359 1108.5,359.1" fill="none" stroke="#000" stroke-width="1.6" />
<polyline points="805,362 806,361.9 807,362.2 808,362 809,361.3 810,361.7 811,361.7 812,361.9 813,361.6 814,361.4 815,361.5 816,361.1 817,361.6 818,361.4 819,361.7 820,361.3 821,361.4 822,361.3 823,361.2 824,361.7 825,361.4 826,361.7 827,361.2 828,361.5 829,361 830,361.4 831,361.4 832,361.7 833,361.6 834,361.4 835,361.7 836,361.5 837,361.6 838,361.7 839,361.5 840,361.4 841,361.6 842,361.3 843,361.6 844,361.8 845,361.7 846,361.3 847,361.1 848,361.4 849,361.4 850,361.8 851,361.3 852,361.4 853,361.7 854,361.3 855,361.4 856,361.9 857,361.9 858,361.6 859,361.5 860,361.1 861,361.6 862,361.4 863,361.5 864,361.3 865,361.4 866,361.4 867,361.5 868,361.8 869,361.5 870,360.9 871,361.1 872,360.9 873,361.2 874,361.6 875,361.5 876,361.2 877,361.5 878,361.2 879,361 880,361 881,361.1 882,361.8 883,361 884,361.8 885,361.8 886,361.3 887,361.4 888,361.2 889,361.4 890,361.6 891,361.4 892,361.7 893,361.7 894,361.5 895,361.5 896,361.4 897,361.5 898,361 899,361.5 900,361.4 901,361.1 902,362 903,361.1 904,361.1 905,361.5 906,360.8 907,361.1 908,360.9 909,361.1 910,361.3 911,361.5 912,361.7 913,361.6 914,361.7 915,361.5 916,361.2 917,361.7 918,361.2 919,361.2 920,361.8 921,361.6 922,361.4 923,361.6 924,361.6 925,361 926,361.3 927,361 928,361.4 929,361.2 930,361.8 931,361.5 932,361.1 933,361.3 934,361 935,361.4 936,361.5 937,361.4 938,360.8 939,361.3 940,361.5 941,361.4 942,361.7 943,361 944,361.5 945,361.2 946,361.4 947,361.5 948,361.6 949,361.2 950,361.4 951,361 952,360.9 953,361.5 954,361.3 955,360.9 956,361.1 957,361.3 958,361.8 959,361.7 960,361.6 961,360.8 962,361.3 963,361.5 964,361.5 965,361.5 966,361.3 967,361.9 968,361.8 969,361.3 970,361 971,361.9 972,361.2 973,361.7 974,361.9 975,361 976,361.4 977,361.2 978,361.5 979,361.4 980,361.9 981,361.5 982,361.3 983,361.7 984,361.2 985,361.2 986,362 987,361.1 988,361.2 989,361.3 990,361 991,360.7 992,361.6 993,361.1 994,361.2 995,361.2 996,361 997,361 998,361.4 999,362 1000,361.5 1001,361.5 1002,360.9 1003,361.3 1004,361 1005,361.5 1006,361.2 1007,361.3 1008,361.3 1009,361.1 1010,360.9 1011,361.5 1012,360.9 1013,361 1014,361.2 1015,361.1 1016,361.4 1017,361.6 1018,361.4 1019,361.4 1020,361.3 1021,361.6 1022,360.8 1023,361.4 1024,361 1025,360.9 1026,361.3 1027,361.2 1028,361.5 1029,361.6 1030,360.6 1031,361.3 1032,361.9 1033,361.6 1034,361.7 1035,361.3 1036,360.9 1037,361 1038,361.5 1039,361.6 1040,361.1 1041,361.2 1042,361.4 1043,360.8 1044,361.2 1045,361.8 1046,362 1047,361.3 1048,361.8 1049,361.1 1050,361.1 1051,360.6 1052,361.6 1053,361.2 1054,362 1055,361.4 1056,361.4 1057,360.8 1058,361.7 1059,361.2 1060,361.2 1061,360.6 1062,361.6 1063,361.6 1064,361.1 1065,361.3 1066,361.4 1067,361.6 1068,361.3 1069,361.8 1070,361.2 1071,361.1 1072,361.2 1073,360.5 1074,361.1 1075,361.6 1076,361.4 1077,361 1078,361.4 1079,360.7 1080,361.2 1081,361.4 1082,361.5 1083,361.1 1084,361.6 1085,361.9 1086,361.2 1087,361.5 1088,360.8 1089,360.7 1090,361.5 1091,361.3 1092,361.3 1093,361.1 1094,361.2 1095,361.5 1096,361.8 1097,361.2 1098,360.8 1099,361.7 1100,361.5 1101,361.5 1102,361.3 1103,362 1104,361.3 1105,361.4 1106,360.7 1107,361.1 1108,361.1 1108.5,361.3" fill="none" stroke="#000" stroke-width="1.6" />
<polyline points="805,364.4 806,363.9 807,364.6 808,363.7 809,363.8 810,364 811,363.5 812,364 813,364.1 814,363.8 815,364.4 816,363.8 817,363.9 818,363.5 819,363.3 820,363.6 821,363.7 822,363.6 823,364 824,363 825,363.4 826,363.2 827,364.2 828,363.6 829,363.6 830,363.4 831,364 832,363.6 833,363.8 834,363.1 835,364.1 836,363.8 837,363.9 838,364.1 839,363.6 840,363.6 841,363.9 842,363.8 843,363.6 844,363.7 845,363.5 846,363.9 847,364 848,363.7 849,364.2 850,363.2 851,363.6 852,364.2 853,363.5 854,363.2 855,364.1 856,363.8 857,363.3 858,363.9 859,363.3 860,363.2 861,363.6 862,363.5 863,363.3 864,363.5 865,363.3 866,363.7 867,363.6 868,363.9 869,363.5 870,363.2 871,363.2 872,363.6 873,364.1 874,363.9 875,363.4 876,363.9 877,363.3 878,363.9 879,363.5 880,363.9 881,363.8 882,363.5 883,363.7 884,363.3 885,363.6 886,363.9 887,364.8 888,363.8 889,363.6 890,363.3 891,363.9 892,363.1 893,363.4 894,363.7 895,363.2 896,364.1 897,363.9 898,363.4 899,363.4 900,363.2 901,363.2 902,363.7 903,363.8 904,363.7 905,363.7 906,363.4 907,363.7 908,363.1 909,363.6 910,364 911,364 912,363.4 913,363.5 914,364 915,364.1 916,363.1 917,363.5 918,363.7 919,363.9 920,363.3 921,363.8 922,363.5 923,364.3 924,363.7 925,363.5 926,363.5 927,363.9 928,363.8 929,363.2 930,363.6 931,363.2 932,363.3 933,363.2 934,363.2 935,363.4 936,363.3 937,363.7 938,363.8 939,363.5 940,363.2 941,363.8 942,363 943,363 944,363.8 945,363.8 946,363.9 947,363.5 948,363.2 949,363.4 950,363.7 951,363.3 952,363.3 953,363.1 954,363.2 955,363.8 956,363.7 957,363.2 958,363.2 959,363.4 960,363.7 961,363.2 962,363.5 963,362.9 964,363.2 965,363.7 966,363.8 967,363.2 968,363.3 969,363.8 970,363.4 971,363.4 972,363.7 973,363.6 974,363.9 975,363.8 976,363.4 977,363.5 978,363.5 979,363.1 980,363.2 981,363.8 982,363.1 983,363.8 984,363.6 985,363.5 986,363.7 987,363.7 988,363.9 989,363.4 990,363.5 991,363.5 992,364.1 993,363.8 994,363.3 995,363.4 996,363.3 997,363.5 998,363.6 999,364.2 1000,363 1001,363.8 1002,363.7 1003,363.3 1004,363.5 1005,363.4 1006,363.5 1007,363.8 1008,363.1 1009,363.9 1010,363.4 1011,364 1012,363.6 1013,363.9 1014,363.7 1015,363.8 1016,363.5 1017,363.3 1018,363.7 1019,363.7 1020,364.2 1021,362.9 1022,363.5 1023,363.8 1024,363.1 1025,363.5 1026,364.2 1027,363.9 1028,363.3 1029,363.9 1030,363.9 1031,363.8 1032,363.6 1033,363.6 1034,363.3 1035,363.4 1036,363.7 1037,363.6 1038,364.1 1039,363.4 1040,362.8 1041,363.4 1042,363.6 1043,363.6 1044,363.5 1045,363.3 1046,364 1047,363.3 1048,363.7 1049,363.4 1050,363.2 1051,363.9 1052,362.8 1053,363.3 1054,363.6 1055,363.4 1056,363.7 1057,363.5 1058,363.4 1059,364.2 1060,363.4 1061,363.5 1062,363.2 1063,363.3 1064,363.7 1065,363.7 1066,363.5 1067,363.3 1068,363.7 1069,363 1070,363.4 1071,363.4 1072,363.3 1073,363.6 1074,363.3 1075,363.3 1076,364 1077,363.7 1078,363.9 1079,363.5 1080,363.8 1081,363.7 1082,363.9 1083,364.2 1084,363.4 1085,363.6 1086,363.5 1087,362.4 1088,363.1 1089,363.5 1090,363.7 1091,363.3 1092,363.8 1093,363.9 1094,363.4 1095,363.9 1096,364 1097,363.6 1098,363.2 1099,363.9 1100,363.5 1101,363.4 1102,363.5 1103,363.3 1104,363.8 1105,363.7 1106,363.9 1107,363.7 1108,363.3 1108.5,363.5" fill="none" stroke="#000" stroke-width="1.6" />
<polyline points="805,366.9 806,366.4 807,367.4 808,366.4 809,366.3 810,366.8 811,366.6 812,366.4 813,366.3 814,366.5 815,366.6 816,366.6 817,366.3 818,366.5 819,366.6 820,366.6 821,365.4 822,366.1 823,366.1 824,366.3 825,366.4 826,366.6 827,366.5 828,366.3 829,366.3 830,366.9 831,366.1 832,366.4 833,366.8 834,366.4 835,365.7 836,366.4 837,366.2 838,366.3 839,366.6 840,366.4 841,366.2 842,366.6 843,366.4 844,366.3 845,366.4 846,366.4 847,366.2 848,366.2 849,366.3 850,366 851,365.9 852,366.7 853,366.2 854,366.3 855,366.2 856,366.3 857,366.3 858,366.3 859,366 860,366.6 861,366.1 862,366.6 863,365.7 864,366 865,366.6 866,366.2 867,366.1 868,366.4 869,366 870,366.3 871,365.6 872,366.1 873,366.1 874,366.4 875,366.5 876,366 877,366.8 878,366.1 879,365.7 880,365.6 881,366.7 882,366.2 883,366.1 884,366 885,365.9 886,366.7 887,366.2 888,366.8 889,366.2 890,365.6 891,366.5 892,366.1 893,366.2 894,366.7 895,366.2 896,366.6 897,366.3 898,366 899,366.4 900,366.1 901,366.6 902,366.5 903,366.3 904,366.4 905,366.4 906,366.2 907,366.5 908,366.2 909,366.4 910,366 911,366.3 912,366.4 913,366 914,366.1 915,366.1 916,366.5 917,366 918,366.4 919,366.7 920,366.4 921,365.8 922,366.3 923,366.6 924,366.2 925,366.6 926,366.4 927,366.4 928,366.2 929,366.1 930,366.2 931,366.3 932,366.4 933,366.4 934,366.2 935,366.3 936,366.4 937,365.8 938,366 939,366 940,366.2 941,366.2 942,366.2 943,366 944,366.4 945,366.3 946,365.7 947,366.2 948,365.9 949,366.8 950,366.1 951,366.1 952,366.3 953,366.2 954,366.2 955,366.7 956,366.3 957,366.5 958,366.6 959,365.9 960,366.7 961,366.4 962,366.5 963,366 964,366.5 965,366.4 966,366.1 967,366.9 968,366.4 969,366.2 970,366.3 971,366.5 972,366.6 973,366.4 974,366.6 975,366.7 976,365.9 977,366.1 978,366 979,366.3 980,366.7 981,366.4 982,365.9 983,366.1 984,366.5 985,366.1 986,366.2 987,366.3 988,365.7 989,366.5 990,366.3 991,366.4 992,365.9 993,366 994,366 995,366.3 996,366.2 997,366.3 998,366.8 999,366.6 1000,366 1001,366 1002,366.7 1003,366.1 1004,366.6 1005,366.7 1006,366.1 1007,366.1 1008,366.2 1009,366 1010,365.9 1011,366.1 1012,366.5 1013,366.1 1014,366.2 1015,366.1 1016,365.8 1017,366.7 1018,365.5 1019,366 1020,366.4 1021,365.8 1022,366.4 1023,366.6 1024,366 1025,366.3 1026,365.9 1027,366.4 1028,366.2 1029,366.3 1030,366.6 1031,366.4 1032,366.6 1033,366.4 1034,365.9 1035,366.3 1036,366.4 1037,365.8 1038,366.6 1039,366.2 1040,366.3 1041,365.9 1042,366.2 1043,366.3 1044,366.1 1045,366.2 1046,365.6 1047,366.6 1048,365.9 1049,365.6 1050,365.9 1051,366 1052,366.4 1053,365.9 1054,366.3 1055,365.9 1056,366.9 1057,366.4 1058,366.8 1059,365.9 1060,366.4 1061,365.9 1062,366.4 1063,366.4 1064,365.7 1065,365.9 1066,365.9 1067,365.8 1068,366 1069,365.9 1070,365.8 1071,366.2 1072,366.4 1073,365.8 1074,366 1075,366.2 1076,366.1 1077,366 1078,366.5 1079,366.5 1080,366.4 1081,366.1 1082,366.8 1083,366.7 1084,366.1 1085,366.2 1086,366.6 1087,366 1088,366.3 1089,366.2 1090,366 1091,366.1 1092,365.7 1093,366 1094,365.6 1095,366.9 1096,366.7 1097,366.6 1098,366.3 1099,366.5 1100,366.6 1101,366.5 1102,366.5 1103,365.9 1104,366.3 1105,366 1106,365.8 1107,365.9 1108,366.3 1108.5,366.5" fill="none" stroke="#000" stroke-width="1.6" />
<polyline points="805,368.5 806,369.4 807,369.3 808,368.7 809,368.7 810,368.8 811,369.1 812,368.7 813,368.5 814,368.9 815,368.2 816,368.8 817,369.1 818,368.9 819,369 820,368.9 821,369 822,368.8 823,368.5 824,368.7 825,368.7 826,369.1 827,369.3 828,368.9 829,368.5 830,368.5 831,368.7 832,369.2 833,368.9 834,368.7 835,368.5 836,369 837,368.8 838,368.7 839,368.8 840,369.3 841,368.7 842,369.3 843,369.1 844,368.8 845,369 846,368.7 847,368.5 848,368.7 849,368.5 850,368.9 851,368.8 852,368.9 853,369 854,367.8 855,368.8 856,368.2 857,368.8 858,368.5 859,368.8 860,369.2 861,368.2 862,368.8 863,368.7 864,368.2 865,368.9 866,368.7 867,368.6 868,368.5 869,369.7 870,368.6 871,368.2 872,368.5 873,368.6 874,368.6 875,368.7 876,368.4 877,368.9 878,368.6 879,368.3 880,368.5 881,368.6 882,369 883,368.9 884,368.6 885,368.7 886,368.8 887,369.3 888,368.5 889,368.9 890,368.9 891,368.4 892,368.8 893,368.8 894,368.6 895,368.9 896,369 897,369.1 898,368.7 899,368.8 900,369.4 901,368.4 902,368.8 903,369 904,368.8 905,368.9 906,368.8 907,369 908,369.1 909,368.7 910,368.8 911,368.7 912,368.6 913,368.7 914,368.4 915,368.9 916,369.2 917,369.2 918,369.1 919,368.4 920,369.2 921,368.5 922,368.7 923,369.3 924,368.4 925,369 926,368.8 927,368.7 928,368.5 929,368.8 930,368.6 931,369 932,369.1 933,368.3 934,368.6 935,368.6 936,368.4 937,368.4 938,368.7 939,368.7 940,368.2 941,368.6 942,368.9 943,368.4 944,368.4 945,369.2 946,369.1 947,368.2 948,368.3 949,368.8 950,368.4 951,368.6 952,368.6 953,368.9 954,368 955,368.1 956,368.3 957,369 958,368.7 959,368.2 960,368.9 961,368.9 962,368.6 963,368.6 964,368.8 965,369.1 966,368.8 967,368.9 968,368.7 969,368.6 970,368.4 971,368.8 972,368.6 973,368.6 974,369 975,368.9 976,369 977,368.2 978,368.9 979,368.5 980,368.5 981,368.5 982,369.1 983,369 984,368.5 985,368.4 986,368.7 987,368.6 988,369.2 989,368.3 990,368.2 991,368.6 992,368.7 993,368.8 994,368.9 995,369.3 996,368.6 997,368.5 998,368.2 999,368.8 1000,369 1001,368.6 1002,369.1 1003,368.7 1004,369.2 1005,368.8 1006,368.4 1007,368.5 1008,368.2 1009,368.2 1010,368.8 1011,369 1012,369.3 1013,368.7 1014,368.6 1015,368.4 1016,369 1017,368.8 1018,368.5 1019,368.9 1020,368.9 1021,368.1 1022,368.9 1023,368.7 1024,368.6 1025,368.6 1026,369.2 1027,369.2 1028,369.3 1029,368.4 1030,368.5 1031,369 1032,368.3 1033,368.5 1034,368.2 1035,369.3 1036,369 1037,368.8 1038,368.8 1039,368.6 1040,368.6 1041,368.9 1042,368.5 1043,369.1 1044,368.6 1045,368.4 1046,369.1 1047,368.7 1048,368.9 1049,368.6 1050,368 1051,368.9 1052,368.3 1053,369 1054,368.2 1055,368.1 1056,368.8 1057,368.8 1058,368.7 1059,368.3 1060,369 1061,368.3 1062,368.6 1063,368.5 1064,368.6 1065,369 1066,368.5 1067,368.9 1068,368.9 1069,368.2 1070,368.4 1071,368.6 1072,368.5 1073,368.8 1074,368.1 1075,368.9 1076,368.9 1077,368.7 1078,368.3 1079,368.7 1080,368.5 1081,368.9 1082,368.7 1083,368.9 1084,368.6 1085,369.1 1086,368 1087,368.4 1088,368.8 1089,368.2 1090,368.9 1091,368.3 1092,368.7 1093,368.4 1094,368.6 1095,368.8 1096,368.7 1097,368.6 1098,369.3 1099,368.7 1100,368.4 1101,369 1102,368.9 1103,369.1 1104,369.2 1105,368.4 1106,369 1107,369 1108,368.7 1108.5,368.8" fill="none" stroke="#000" stroke-width="1.6" />
<polyline points="805,370.3 806,371 807,371.7 808,370.6 809,371 810,371.2 811,371.3 812,371.6 813,370.6 814,371.1 815,371.3 816,370.7 817,371.1 818,371.6 819,371.5 820,371.2 821,370.3 822,371 823,371.2 824,371 825,371 826,372 827,371 828,370.8 829,371.1 830,371 831,371 832,371 833,371.3 834,371.1 835,370.7 836,371 837,371.2 838,370.9 839,371.4 840,371.3 841,370.8 842,371.1 843,371.6 844,371.5 845,371 846,371.3 847,370.8 848,370.6 849,371.2 850,371.1 851,371.2 852,371 853,371.1 854,370.9 855,371.2 856,371.3 857,371 858,371.3 859,370.5 860,370.8 861,371.5 862,371.6 863,371.1 864,371 865,370.7 866,371.1 867,371.3 868,370.6 869,371.2 870,371.2 871,371.2 872,370.7 873,371.2 874,370.6 875,371.5 876,371.1 877,370.7 878,371.4 879,371.4 880,370.8 881,371.7 882,370.7 883,371.1 884,371.4 885,370.4 886,371.3 887,371 888,371 889,370.7 890,371.1 891,370.7 892,370.7 893,370.9 894,370.7 895,371.5 896,370.6 897,370.8 898,370.9 899,371 900,371.3 901,371.3 902,370.9 903,370.9 904,371 905,371.3 906,371.2 907,370.9 908,370.4 909,371.7 910,371.3 911,371.1 912,371.1 913,370.9 914,370.7 915,370.9 916,371 917,370.8 918,370.6 919,370.9 920,371.2 921,370.9 922,371 923,370.4 924,371 925,371 926,370.7 927,370.5 928,371.1 929,370.8 930,371.2 931,370.9 932,371.2 933,370.9 934,370.6 935,371 936,370.9 937,371.2 938,370.9 939,370.9 940,371.3 941,371.4 942,371.2 943,371.3 944,371.2 945,371.2 946,371.3 947,371.1 948,371 949,371.1 950,371.7 951,371 952,370.9 953,370.9 954,371 955,371.1 956,370.7 957,370.4 958,371.1 959,370.5 960,371.1 961,371.1 962,371.4 963,371.5 964,371.1 965,370.8 966,370.7 967,370.8 968,371 969,370.4 970,371 971,371 972,371.2 973,370.9 974,371 975,370.8 976,370.9 977,370.5 978,371.1 979,371.5 980,371.1 981,371.1 982,370.7 983,371.4 984,370.8 985,371.3 986,371 987,370.7 988,371.3 989,371 990,371.1 991,371.1 992,371 993,370.9 994,371.2 995,370.9 996,371 997,370.8 998,370.6 999,370.8 1000,370.9 1001,371 1002,371.4 1003,370.5 1004,371 1005,370.3 1006,370.7 1007,370.9 1008,370.3 1009,370.5 1010,371.1 1011,371 1012,371 1013,370.8 1014,371.7 1015,371 1016,370.7 1017,371.5 1018,371.2 1019,370.9 1020,371.4 1021,371.1 1022,371.2 1023,371.1 1024,370.7 1025,371.3 1026,371.1 1027,370.7 1028,370.8 1029,371.3 1030,370.9 1031,371 1032,371.2 1033,371 1034,370.5 1035,371.2 1036,371.3 1037,371.3 1038,371.5 1039,371.1 1040,371.2 1041,371.5 1042,370.9 1043,371.5 1044,371.5 1045,371.2 1046,371.6 1047,371.3 1048,370.7 1049,371.3 1050,371.1 1051,371.1 1052,371.1 1053,371.4 1054,371.2 1055,370.8 1056,371.1 1057,371.2 1058,370.8 1059,370.9 1060,370.9 1061,370.8 1062,371.1 1063,371.3 1064,371.6 1065,371.4 1066,371.3 1067,371.3 1068,371.4 1069,370.9 1070,371.2 1071,371.1 1072,371 1073,370.9 1074,370.9 1075,370.9 1076,370.6 1077,371.2 1078,371 1079,371 1080,371.1 1081,371.2 1082,370.8 1083,371 1084,370.5 1085,370.3 1086,370.4 1087,371.5 1088,370.5 1089,371.1 1090,371.4 1091,370.9 1092,371.5 1093,371.6 1094,371.3 1095,371.7 1096,371.2 1097,370.8 1098,371.2 1099,370.9 1100,370.6 1101,370.6 1102,371.7 1103,370.8 1104,371 1105,370.8 1106,371 1107,370.9 1108,370.9 1108.5,370.6" fill="none" stroke="#000" stroke-width="1.6" />
<polyline points="805,373.1 806,373.2 807,373.5 808,374.1 809,373.7 810,374 811,373.6 812,373.4 813,373 814,373.4 815,372.7 816,373.3 817,373.9 818,373.5 819,373.7 820,373.3 821,373 822,373.2 823,373.3 824,373.7 825,374 826,373.2 827,373.3 828,373.3 829,373.3 830,373 831,373.4 832,373.5 833,373.5 834,373 835,373.3 836,372.8 837,373.6 838,373.1 839,373.3 840,373.2 841,373.2 842,373 843,372.8 844,373.9 845,373.4 846,373.4 847,374 848,373.3 849,373.5 850,373.4 851,373.7 852,373.5 853,373.4 854,373.3 855,373.4 856,373.7 857,372.7 858,373.3 859,373.2 860,373.3 861,372.8 862,373.6 863,373.1 864,373.3 865,373.2 866,372.8 867,373.2 868,372.8 869,373.1 870,373.3 871,373.3 872,373.4 873,373.3 874,374 875,373.5 876,373 877,373.2 878,373.1 879,373.3 880,373.2 881,373.1 882,373.8 883,373.4 884,373.2 885,373.3 886,373.3 887,373.8 888,373.5 889,373.7 890,372.4 891,373.4 892,373.7 893,373.9 894,373.3 895,372.8 896,373.5 897,373.2 898,372.8 899,373.2 900,373.7 901,373.7 902,373.6 903,373 904,374.1 905,373 906,373.3 907,372.9 908,373.7 909,373.5 910,373.6 911,373.4 912,373.3 913,373.4 914,372.8 915,373.6 916,373.6 917,373.2 918,373.3 919,373.4 920,373.8 921,373.5 922,373.3 923,373.2 924,372.9 925,373.2 926,373.4 927,373.3 928,373.4 929,373.6 930,373.5 931,373.4 932,373.5 933,373.4 934,373.3 935,373.5 936,372.8 937,373.7 938,372.9 939,373.6 940,373.3 941,373.7 942,373.3 943,373 944,373.7 945,373.4 946,373.4 947,373.4 948,373.6 949,373.6 950,373.4 951,372.9 952,373.2 953,373.4 954,373.9 955,373.4 956,373.3 957,373.7 958,373.3 959,373.3 960,373.4 961,372.9 962,373.6 963,373.5 964,373.2 965,373 966,373.4 967,373.8 968,373.1 969,373 970,373.5 971,372.9 972,372.7 973,373.2 974,373.1 975,373.2 976,373.2 977,373.4 978,373.3 979,373.2 980,373.2 981,373.5 982,373.6 983,373.6 984,373.5 985,372.3 986,373 987,373.2 988,373.4 989,372.8 990,373.8 991,373.4 992,373.1 993,373.4 994,373.2 995,373.1 996,373.5 997,373.2 998,372.9 999,373.1 1000,373.3 1001,373 1002,373.7 1003,373 1004,373.9 1005,373.6 1006,373 1007,373.4 1008,373.7 1009,373.3 1010,373 1011,373.4 1012,373.9 1013,372.9 1014,373.5 1015,373.3 1016,373.3 1017,373.2 1018,373.2 1019,373.6 1020,373.5 1021,373 1022,373.8 1023,372.9 1024,373.5 1025,373.4 1026,373.7 1027,373.4 1028,373.6 1029,373.3 1030,373.6 1031,373.4 1032,374 1033,373.1 1034,373.7 1035,373.5 1036,373.4 1037,373.2 1038,373.5 1039,372.9 1040,372.9 1041,373.5 1042,372.9 1043,373.8 1044,373.2 1045,373.4 1046,373.3 1047,373.5 1048,373.2 1049,373.2 1050,373.3 1051,373.6 1052,373.7 1053,373.7 1054,373.4 1055,373.3 1056,372.8 1057,373.5 1058,373.6 1059,373.2 1060,373.6 1061,373.7 1062,373.4 1063,373.6 1064,373.4 1065,372.8 1066,373.2 1067,373.2 1068,373.5 1069,373.1 1070,373.2 1071,373 1072,373.3 1073,373.3 1074,373.6 1075,373.6 1076,373.4 1077,373.4 1078,373.4 1079,373.4 1080,373.8 1081,372.6 1082,373.3 1083,373.4 1084,373.7 1085,373 1086,373.4 1087,373.6 1088,373.2 1089,372.8 1090,373.2 1091,373 1092,373.5 1093,373.1 1094,373.9 1095,373.4 1096,373.1 1097,373.2 1098,373 1099,373.4 1100,373.8 1101,373.3 1102,373.6 1103,373 1104,373.4 1105,374 1106,372.9 1107,373.7 1108,373.7 1108.5,372.8" fill="none" stroke="#000" stroke-width="1.6" />
<polyline points="805,375.4 806,375.5 807,376 808,375.6 809,375.7 810,375.9 811,375.7 812,375.7 813,375.6 814,376 815,375.4 816,376.2 817,375.5 818,375.4 819,375.8 820,375.8 821,375 822,375.7 823,375.2 824,375.4 825,375.9 826,375.4 827,375.7 828,375.5 829,376.2 830,375.6 831,375.3 832,375.3 833,375.3 834,375.6 835,375.6 836,375.9 837,375.7 838,375.6 839,375.7 840,375.6 841,375.7 842,375.8 843,375.8 844,375.4 845,375.1 846,375.4 847,375.7 848,374.8 849,375.4 850,375.7 851,375.4 852,375.3 853,376.1 854,376 855,375.5 856,376 857,376 858,375.2 859,376.4 860,375.3 861,375.5 862,375.2 863,375.6 864,375.2 865,375.6 866,375.9 867,375.6 868,375.5 869,376 870,375.3 871,375.9 872,375.5 873,375.6 874,375.6 875,375.6 876,375.6 877,375.3 878,375.4 879,375.7 880,375.5 881,375.2 882,375.4 883,375.4 884,375.5 885,375.6 886,375.6 887,375.4 888,375.6 889,375.1 890,374.7 891,375.5 892,375.1 893,375.3 894,375.2 895,375.7 896,375.2 897,375.6 898,375.4 899,375.2 900,375.1 901,375.7 902,375.7 903,375.8 904,376.1 905,375.6 906,375.6 907,375.5 908,375.6 909,375.4 910,375.3 911,376.1 912,375 913,375.6 914,375.7 915,375.6 916,375.3 917,375.5 918,375.4 919,375.2 920,375.5 921,375.4 922,375.4 923,375.7 924,375.2 925,375.7 926,375.4 927,375.7 928,375.6 929,375.6 930,375.2 931,375.3 932,375.3 933,375.6 934,375.8 935,375.9 936,375.4 937,375.6 938,375 939,374.9 940,375.3 941,375.3 942,375.1 943,375 944,375.7 945,375.3 946,375 947,376.2 948,375.6 949,375.4 950,375.7 951,375.3 952,376 953,375.1 954,375.1 955,375.5 956,375.3 957,375.9 958,375 959,375.3 960,375.6 961,375.7 962,375.8 963,375.6 964,376.2 965,375.4 966,375.6 967,375.8 968,375.4 969,375.4 970,375.4 971,375.3 972,375.2 973,375.3 974,375 975,375.6 976,375 977,376.1 978,376 979,375.8 980,375.4 981,375.3 982,375.9 983,375.6 984,375.7 985,375.3 986,375.8 987,375.3 988,375.5 989,375 990,375.3 991,375.7 992,375.4 993,375.4 994,375.7 995,375.5 996,375.9 997,374.8 998,375.7 999,375.7 1000,375 1001,375.1 1002,375.8 1003,375.2 1004,375.3 1005,375.7 1006,375.4 1007,375.6 1008,375.2 1009,375.6 1010,375.8 1011,375.6 1012,374.8 1013,375.7 1014,375.5 1015,375.2 1016,375.9 1017,375 1018,376.1 1019,375.3 1020,376 1021,375.5 1022,375.1 1023,375.5 1024,375.6 1025,375.7 1026,375.8 1027,375.2 1028,375.6 1029,375.7 1030,375.4 1031,375.2 1032,375.2 1033,375.7 1034,375.7 1035,375.2 1036,375.1 1037,375.9 1038,375 1039,375.5 1040,375.3 1041,375 1042,375.5 1043,375.4 1044,375.9 1045,376.2 1046,375.4 1047,375.8 1048,375.8 1049,375.3 1050,375.2 1051,376 1052,375.4 1053,375.5 1054,375.4 1055,375.4 1056,375.3 1057,375.7 1058,375.9 1059,375.4 1060,375.1 1061,375.5 1062,375 1063,375.3 1064,375.9 1065,376.2 1066,375.6 1067,375.2 1068,375.7 1069,374.8 1070,375.3 1071,375.9 1072,375.7 1073,375.1 1074,375 1075,375.7 1076,375.5 1077,375.3 1078,375.6 1079,375.3 1080,374.9 1081,375.7 1082,375.3 1083,375.2 1084,375.1 1085,375.6 1086,375.2 1087,375.7 1088,375.4 1089,375.8 1090,375.4 1091,375.3 1092,374.9 1093,375.2 1094,375.7 1095,376.4 1096,375.1 1097,375.2 1098,375.6 1099,375.6 1100,375.3 1101,375.5 1102,375 1103,375.4 1104,375.8 1105,376 1106,375.4 1107,375.4 1108,375.6 1108.5,375.8" fill="none" stroke="#000" stroke-width="1.6" />
<polyline points="805,378.2 806,377.8 807,378.1 808,378.2 809,377.7 810,377.5 811,378 812,378 813,378.2 814,377.9 815,377.7 816,377.7 817,377.5 818,377.6 819,377.7 820,377.7 821,378.2 822,377.5 823,377.8 824,377.6 825,378.3 826,377.9 827,377.7 828,378.1 829,377.8 830,377.7 831,378.3 832,378 833,378.3 834,378.1 835,378 836,377.8 837,377.5 838,378 839,377.8 840,378 841,377.8 842,377.6 843,377.5 844,378 845,378.2 846,377.7 847,377.9 848,378.2 849,377.5 850,377.7 851,377.4 852,378.1 853,377.9 854,377.6 855,377.3 856,377.7 857,378.1 858,377.7 859,377.6 860,378 861,377.4 862,377.8 863,377.9 864,377.5 865,377.5 866,377.8 867,377.7 868,377.7 869,377.8 870,377.8 871,377.5 872,377.6 873,377.9 874,378.1 875,378.2 876,377.5 877,378.1 878,378 879,377.7 880,377.9 881,378 882,378.3 883,377.4 884,377.9 885,377.7 886,377.7 887,378.1 888,378 889,377.4 890,377.7 891,377.8 892,377.3 893,378 894,377.7 895,377.8 896,377.8 897,378.3 898,377.8 899,377.6 900,378.3 901,377.6 902,377.6 903,377.3 904,378.1 905,377.8 906,377.9 907,377.8 908,377.7 909,377.5 910,377.5 911,377.9 912,377.8 913,378.2 914,377.5 915,377.6 916,377.4 917,378.1 918,377.4 919,378 920,378.2 921,377.7 922,378 923,377.1 924,377.6 925,377.2 926,377.8 927,377.7 928,377.5 929,378 930,377.8 931,377.6 932,377.6 933,377.3 934,377.7 935,378.4 936,377.5 937,377.9 938,377.6 939,378 940,377.9 941,377.7 942,377.2 943,377.6 944,378.1 945,377.7 946,377.9 947,377.6 948,377.2 949,377.9 950,377.8 951,377.6 952,377.6 953,377.8 954,377.6 955,377.8 956,377.7 957,377 958,377.7 959,377.5 960,377.5 961,377.8 962,377.6 963,377.9 964,378 965,377.8 966,377.3 967,377.5 968,378 969,377.6 970,377.5 971,377.7 972,377.9 973,377.8 974,377.9 975,377.5 976,377.6 977,377.6 978,377.7 979,377.1 980,377.6 981,377.3 982,378.1 983,378.2 984,378.2 985,378 986,377.6 987,378 988,377.7 989,377.9 990,377.4 991,377.5 992,377.9 993,378.2 994,377.7 995,378.4 996,378.5 997,377.3 998,377.7 999,377.4 1000,377.7 1001,377.6 1002,377.7 1003,378 1004,378 1005,377.8 1006,377.7 1007,377.7 1008,377.8 1009,377.9 1010,377.7 1011,377.9 1012,377.3 1013,377.9 1014,378.2 1015,377.8 1016,377.3 1017,378.1 1018,377.6 1019,376.8 1020,377.6 1021,377.9 1022,377.8 1023,378.1 1024,377.9 1025,377.7 1026,377.1 1027,377.4 1028,377.8 1029,377.9 1030,377.4 1031,377.5 1032,377.8 1033,377.1 1034,377.1 1035,377.6 1036,377.8 1037,377.6 1038,377 1039,377.7 1040,377.3 1041,377.9 1042,377.7 1043,377.8 1044,377.9 1045,377.6 1046,378 1047,378.1 1048,377.8 1049,378.1 1050,377.5 1051,378 1052,377.8 1053,377.4 1054,377.7 1055,377.5 1056,377.5 1057,377.7 1058,378 1059,377.6 1060,377.7 1061,377.3 1062,377.7 1063,378 1064,377.9 1065,377.8 1066,377.5 1067,377.4 1068,377.7 1069,377.3 1070,377.3 1071,378 1072,377.4 1073,378.2 1074,377.3 1075,377.8 1076,377.4 1077,377.8 1078,377.4 1079,377.7 1080,377.7 1081,377.6 1082,377.9 1083,378.1 1084,377.5 1085,378 1086,377.7 1087,377.7 1088,378.4 1089,377.1 1090,377.5 1091,377.2 1092,377.6 1093,377.6 1094,378.8 1095,377.8 1096,378.2 1097,378.1 1098,377.6 1099,377.8 1100,378.2 1101,377.7 1102,377.8 1103,377.8 1104,377.3 1105,377.5 1106,377.8 1107,377.9 1108,377.4 1108.5,377.6" fill="none" stroke="#000" stroke-width="1.6" />
<polyline points="805,380.4 806,380.4 807,380.6 808,380.4 809,380.4 810,380 811,380.1 812,380.5 813,379.9 814,380.5 815,380.2 816,380.2 817,380.6 818,380.2 819,380.1 820,380.2 821,380.4 822,381.2 823,379.8 824,380.4 825,380.3 826,380.7 827,380.3 828,379.7 829,380.8 830,380.1 831,380.4 832,380 833,380.1 834,380.2 835,380.6 836,380.6 837,380.2 838,380.5 839,380.3 840,380.4 841,380.4 842,380.6 843,380.2 844,380.4 845,380.5 846,380.4 847,380.2 848,380.9 849,380.3 850,380.6 851,380.5 852,380.8 853,379.7 854,381 855,380.3 856,380 857,380.4 858,381.1 859,380.5 860,380 861,380.3 862,380.8 863,380 864,380.3 865,380.3 866,381 867,380.3 868,380.8 869,380.2 870,380.2 871,380.7 872,380.6 873,379.9 874,380.6 875,380.6 876,380.2 877,380.5 878,380.5 879,380.2 880,380.2 881,380.2 882,380.3 883,380 884,380.4 885,379.9 886,380.4 887,380.4 888,380.1 889,380.6 890,381 891,380.8 892,380 893,380.8 894,380.5 895,380.4 896,380.2 897,380.4 898,380.8 899,380.6 900,380.3 901,380.2 902,380.3 903,380.6 904,380.9 905,380.1 906,380.4 907,380.3 908,380.2 909,380.5 910,380.6 911,380 912,380.1 913,380.7 914,380.5 915,380.5 916,380.2 917,380.3 918,380.5 919,380.2 920,380.1 921,380.4 922,380.7 923,380.1 924,380.7 925,380.6 926,380.1 927,380.4 928,380.4 929,380.6 930,380.6 931,380 932,380 933,380.7 934,380.4 935,380.5 936,380.5 937,380.8 938,380 939,380.7 940,380.1 941,380.6 942,380.8 943,380 944,380.5 945,380.3 946,380.3 947,380.4 948,380.1 949,380.1 950,380.6 951,380.6 952,380.2 953,380 954,381.1 955,380.7 956,380.5 957,380.1 958,380.2 959,380.5 960,380.1 961,380.9 962,380.4 963,380.5 964,380.1 965,380.1 966,380.2 967,380.5 968,380.3 969,380.3 970,380.5 971,380.5 972,380.8 973,380.3 974,380.1 975,380.4 976,380.8 977,380.2 978,380.4 979,380.3 980,380.5 981,380.5 982,380.2 983,380.3 984,380.7 985,380.7 986,380.7 987,380.6 988,380.3 989,380.3 990,380.7 991,380 992,380.4 993,379.8 994,380.3 995,380.2 996,380 997,380.6 998,380.2 999,380.3 1000,380.3 1001,380.2 1002,380.8 1003,380.2 1004,380.4 1005,380 1006,380.3 1007,380.3 1008,380.3 1009,380.2 1010,380.4 1011,380.8 1012,380.4 1013,380.3 1014,380.3 1015,381.1 1016,380.9 1017,380.6 1018,380.6 1019,380.2 1020,380.3 1021,380.5 1022,380.4 1023,380.1 1024,380.2 1025,380.5 1026,380.5 1027,379.8 1028,380.4 1029,380.8 1030,380.2 1031,380.5 1032,380 1033,380.6 1034,380.1 1035,380 1036,380.3 1037,381.1 1038,380.2 1039,380 1040,380.5 1041,380.5 1042,380.9 1043,380 1044,379.9 1045,380.3 1046,380.5 1047,380.5 1048,380.7 1049,380 1050,380.1 1051,380.4 1052,380.6 1053,380.5 1054,380.3 1055,380.1 1056,380.7 1057,380.7 1058,381.2 1059,380.3 1060,380.9 1061,380 1062,380.2 1063,380.2 1064,380.3 1065,380.1 1066,380.2 1067,380.4 1068,380.3 1069,380.6 1070,380.4 1071,380.4 1072,380.8 1073,380.5 1074,380.4 1075,380.4 1076,380.4 1077,380.6 1078,380.2 1079,380.7 1080,380.9 1081,380.7 1082,380.2 1083,379.9 1084,380.3 1085,380.4 1086,380.6 1087,380.3 1088,380.3 1089,380.8 1090,380.2 1091,380.7 1092,380.7 1093,380 1094,380.5 1095,380.2 1096,380.1 1097,379.8 1098,379.9 1099,380.5 1100,380.3 1101,380.5 1102,380.1 1103,380.3 1104,380.3 1105,379.9 1106,379.9 1107,380.5 1108,380.4 1108.5,380.1" fill="none" stroke="#000" stroke-width="1.6" />
<polyline points="1108.5,194.1 1108.5,381.6" fill="none" stroke="#000" stroke-width="1.2" />
<polygon points="1108.5,331.6 1109,339.5 1109.5,344.8 1110,348.3 1110.5,350.6 1111,352.1 1111.5,353.2 1112,353.9 1112.5,354.4 1113,354.7 1113.5,355 1114,355.1 1114.5,355.3 1115,355.4 1115.5,355.4 1116,355.5 1116.5,355.6 1117,355.6 1117.5,355.7 1118,355.7 1118.5,355.7 1119,355.8 1119.5,355.8 1120,355.8 1120.5,355.9 1122.5,356 1124.5,356 1126.5,356.1 1128.5,356.2 1130.5,356.2 1132.5,356.2 1134.5,356.3 1136.5,356.3 1138.5,356.3 1140.5,356.3 1142.5,356.3 1144.5,356.4 1146.5,356.4 1148.5,356.4 1150.5,356.4 1152.5,356.4 1154.5,356.4 1156.5,356.4 1158.5,356.4 1160.5,356.4 1162.5,356.4 1164.5,356.4 1166.5,356.4 1168.5,356.4 1176.5,356.4 1184.5,356.4 1192.5,356.4 1200.5,356.4 1208.5,356.4 1216.5,356.4 1224.5,356.4 1232.5,356.4 1240.5,356.4 1248.5,356.4 1256.5,356.4 1264.5,356.4 1272.5,356.4 1280.5,356.4 1288.5,356.4 1296.5,356.4 1304.5,356.4 1351,356.4 1351,359.8 1304.5,359.8 1296.5,359.8 1288.5,359.8 1280.5,359.8 1272.5,359.8 1264.5,359.8 1256.5,359.8 1248.5,359.8 1240.5,359.8 1232.5,359.8 1224.5,359.8 1216.5,359.8 1208.5,359.8 1200.5,359.8 1192.5,359.8 1184.5,359.8 1176.5,359.8 1168.5,359.8 1166.5,359.8 1164.5,359.8 1162.5,359.8 1160.5,359.8 1158.5,359.8 1156.5,359.8 1154.5,359.8 1152.5,359.9 1150.5,359.9 1148.5,359.9 1146.5,359.9 1144.5,359.9 1142.5,359.9 1140.5,359.9 1138.5,359.9 1136.5,360 1134.5,360 1132.5,360 1130.5,360 1128.5,360.1 1126.5,360.1 1124.5,360.1 1122.5,360.2 1120.5,360.2 1120,360.3 1119.5,360.3 1119,360.3 1118.5,360.3 1118,360.3 1117.5,360.3 1117,360.4 1116.5,360.4 1116,360.4 1115.5,360.4 1115,360.4 1114.5,360.5 1114,360.5 1113.5,360.5 1113,360.5 1112.5,360.6 1112,360.6 1111.5,360.6 1111,360.6 1110.5,360.7 1110,360.7 1109.5,360.7 1109,360.8 1108.5,360.8" fill="#000"/>
</g>
<g id="panel-c" stroke-linejoin="round">
<text x="40.20" y="466.0" font-size="37.33" font-weight="700">c</text>
<text x="139.65" y="472.2" font-size="37.33">F617L</text>
<path d="M508.3 643.5h6.3v40.5h57.3v5.9h-63.6z" fill="#000"/>
<text x="382.94" y="680.2" font-size="37.33">0.5 µA</text>
<text x="484.80" y="733.7" font-size="37.33">200 ms</text>
<polyline points="0,772.4 30.9,772.4" fill="none" stroke="#000" stroke-width="3.2" />
<rect x="30.5" y="762.2" width="303.8" height="9.6" fill="#000"/>
<polyline points="30.8,772 30.8,628.3" fill="none" stroke="#000" stroke-width="1.2" />
<polyline points="31,757.3 31.5,740.6 32,725.8 32.5,712.8 33,701.2 33.5,691.1 34,682 34.5,674 35,666.9 35.5,660.5 36,654.8 36.5,649.7 37,645.1 37.5,641 38,637.3 38.5,633.9 39,630.9 39.5,628.1 40,625.5 40.5,623.2 41,621.1 41.5,619.1 42,617.3 42.5,615.6 43,614 44.5,609.8 46,606.3 47.5,603.2 49,600.6 50.5,598.2 52,596 53.5,594 55,592.1 56.5,590.4 58,588.8 59.5,587.2 61,585.8 62.5,584.4 64,583.1 65.5,581.9 67,580.7 68.5,579.6 70,578.6 71,577.9 75,575.3 79,573 83,571 87,569.1 91,567.3 95,565.7 99,564.2 103,562.8 107,561.4 111,560.2 115,558.9 119,557.8 123,556.7 127,555.7 131,554.7 135,553.7 139,552.8 143,551.9 147,551 151,550.2 159,548.6 167,547.1 175,545.7 183,544.4 191,543.2 199,542 207,540.9 215,539.9 223,539 231,538.1 239,537.2 247,536.5 255,535.7 263,535 271,534.4 279,533.7 287,533.2 295,532.6 303,532.1 311,531.6 319,531.2 327,530.8 334.3,530.4" fill="none" stroke="#000" stroke-width="1.15" />
<polyline points="31,757.3 31.5,743.1 32,730.5 32.5,719.3 33,709.4 33.5,700.5 34,692.6 34.5,685.6 35,679.3 35.5,673.6 36,668.6 36.5,664 37,659.9 37.5,656.2 38,652.9 38.5,649.8 39,647 39.5,644.5 40,642.2 40.5,640.1 41,638.1 41.5,636.3 42,634.6 42.5,633.1 43,631.6 44.5,627.8 46,624.6 47.5,621.8 49,619.4 50.5,617.2 52,615.3 53.5,613.5 55,611.8 56.5,610.3 58,608.8 59.5,607.5 61,606.2 62.5,605 64,603.8 65.5,602.7 67,601.7 68.5,600.7 70,599.7 71,599.1 75,596.8 79,594.8 83,592.9 87,591.2 91,589.6 95,588.2 99,586.8 103,585.6 107,584.4 111,583.2 115,582.2 119,581.2 123,580.2 127,579.2 131,578.4 135,577.5 139,576.7 143,575.9 147,575.1 151,574.4 159,572.9 167,571.6 175,570.4 183,569.2 191,568.1 199,567.1 207,566.1 215,565.2 223,564.3 231,563.5 239,562.7 247,562 255,561.3 263,560.7 271,560.1 279,559.5 287,559 295,558.5 303,558 311,557.6 319,557.1 327,556.7 334.3,556.4" fill="none" stroke="#000" stroke-width="1.15" />
<polyline points="31,757.3 31.5,746.6 32,736.9 32.5,728.2 33,720.3 33.5,713.1 34,706.6 34.5,700.7 35,695.3 35.5,690.4 36,686 36.5,681.9 37,678.2 37.5,674.8 38,671.7 38.5,668.8 39,666.2 39.5,663.8 40,661.6 40.5,659.5 41,657.6 41.5,655.8 42,654.2 42.5,652.6 43,651.2 44.5,647.4 46,644.3 47.5,641.6 49,639.2 50.5,637.2 52,635.3 53.5,633.7 55,632.1 56.5,630.7 58,629.4 59.5,628.2 61,627 62.5,625.9 64,624.9 65.5,623.9 67,622.9 68.5,622 70,621.2 71,620.6 75,618.5 79,616.7 83,615 87,613.4 91,612 95,610.6 99,609.4 103,608.3 107,607.2 111,606.2 115,605.2 119,604.3 123,603.4 127,602.6 131,601.8 135,601 139,600.3 143,599.6 147,598.9 151,598.3 159,597 167,595.8 175,594.7 183,593.7 191,592.7 199,591.7 207,590.8 215,590 223,589.2 231,588.4 239,587.7 247,587 255,586.3 263,585.7 271,585.1 279,584.5 287,584 295,583.5 303,583 311,582.5 319,582.1 327,581.7 334.3,581.3" fill="none" stroke="#000" stroke-width="1.15" />
<polyline points="31,757.3 31.5,749 32,741.4 32.5,734.5 33,728.1 33.5,722.3 34,717 34.5,712.1 35,707.6 35.5,703.5 36,699.7 36.5,696.3 37,693.1 37.5,690.1 38,687.4 38.5,684.9 39,682.5 39.5,680.4 40,678.4 40.5,676.5 41,674.8 41.5,673.1 42,671.6 42.5,670.2 43,668.9 44.5,665.4 46,662.5 47.5,660 49,657.8 50.5,655.9 52,654.3 53.5,652.8 55,651.4 56.5,650.1 58,649 59.5,647.9 61,646.8 62.5,645.9 64,645 65.5,644.1 67,643.3 68.5,642.5 70,641.7 71,641.2 75,639.4 79,637.8 83,636.3 87,634.9 91,633.6 95,632.5 99,631.4 103,630.4 107,629.4 111,628.5 115,627.7 119,626.9 123,626.1 127,625.4 131,624.7 135,624.1 139,623.4 143,622.8 147,622.2 151,621.6 159,620.6 167,619.5 175,618.6 183,617.7 191,616.8 199,616 207,615.2 215,614.5 223,613.8 231,613.1 239,612.4 247,611.8 255,611.2 263,610.7 271,610.1 279,609.6 287,609.1 295,608.6 303,608.2 311,607.8 319,607.3 327,606.9 334.3,606.6" fill="none" stroke="#000" stroke-width="1.15" />
<polyline points="31,757.3 31.5,751.1 32,745.4 32.5,740 33,735.1 33.5,730.6 34,726.4 34.5,722.5 35,718.9 35.5,715.6 36,712.4 36.5,709.6 37,706.9 37.5,704.4 38,702.1 38.5,699.9 39,697.9 39.5,696 40,694.2 40.5,692.6 41,691 41.5,689.6 42,688.3 42.5,687 43,685.8 44.5,682.6 46,679.9 47.5,677.6 49,675.6 50.5,673.9 52,672.4 53.5,671 55,669.7 56.5,668.6 58,667.6 59.5,666.6 61,665.7 62.5,664.9 64,664.1 65.5,663.3 67,662.6 68.5,661.9 70,661.3 71,660.9 75,659.3 79,657.9 83,656.6 87,655.4 91,654.3 95,653.3 99,652.3 103,651.5 107,650.6 111,649.9 115,649.1 119,648.4 123,647.8 127,647.2 131,646.6 135,646 139,645.5 143,644.9 147,644.4 151,643.9 159,643 167,642.1 175,641.3 183,640.6 191,639.8 199,639.1 207,638.5 215,637.8 223,637.2 231,636.6 239,636.1 247,635.5 255,635 263,634.5 271,634.1 279,633.6 287,633.2 295,632.7 303,632.3 311,632 319,631.6 327,631.2 334.3,630.9" fill="none" stroke="#000" stroke-width="1.15" />
<polyline points="31,757.3 31.5,753.1 32,749.2 32.5,745.5 33,742.1 33.5,738.9 34,735.8 34.5,733 35,730.3 35.5,727.8 36,725.4 36.5,723.2 37,721.1 37.5,719.2 38,717.3 38.5,715.6 39,713.9 39.5,712.4 40,710.9 40.5,709.6 41,708.3 41.5,707 42,705.9 42.5,704.8 43,703.7 44.5,700.9 46,698.5 47.5,696.4 49,694.6 50.5,693 52,691.6 53.5,690.3 55,689.2 56.5,688.2 58,687.2 59.5,686.4 61,685.6 62.5,684.9 64,684.2 65.5,683.5 67,682.9 68.5,682.3 70,681.8 71,681.4 75,680.1 79,679 83,677.9 87,676.9 91,676 95,675.1 99,674.3 103,673.6 107,672.9 111,672.3 115,671.6 119,671.1 123,670.5 127,670 131,669.5 135,669 139,668.5 143,668.1 147,667.7 151,667.3 159,666.5 167,665.8 175,665.1 183,664.5 191,663.9 199,663.3 207,662.8 215,662.3 223,661.8 231,661.3 239,660.9 247,660.4 255,660 263,659.6 271,659.2 279,658.8 287,658.4 295,658.1 303,657.7 311,657.4 319,657.1 327,656.8 334.3,656.5" fill="none" stroke="#000" stroke-width="1.15" />
<polyline points="31,757.3 31.5,754.5 32,751.9 32.5,749.5 33,747.1 33.5,744.9 34,742.8 34.5,740.8 35,739 35.5,737.2 36,735.5 36.5,733.9 37,732.4 37.5,730.9 38,729.5 38.5,728.2 39,727 39.5,725.8 40,724.7 40.5,723.6 41,722.6 41.5,721.7 42,720.7 42.5,719.9 43,719 44.5,716.8 46,714.8 47.5,713 49,711.5 50.5,710.2 52,709 53.5,707.9 55,706.9 56.5,706 58,705.3 59.5,704.5 61,703.9 62.5,703.2 64,702.7 65.5,702.1 67,701.6 68.5,701.2 70,700.7 71,700.4 75,699.4 79,698.4 83,697.6 87,696.8 91,696.1 95,695.4 99,694.8 103,694.2 107,693.7 111,693.2 115,692.7 119,692.2 123,691.8 127,691.4 131,691 135,690.6 139,690.2 143,689.9 147,689.5 151,689.2 159,688.6 167,688 175,687.5 183,687 191,686.6 199,686.1 207,685.7 215,685.3 223,684.9 231,684.5 239,684.2 247,683.9 255,683.5 263,683.2 271,682.9 279,682.6 287,682.3 295,682 303,681.8 311,681.5 319,681.3 327,681 334.3,680.8" fill="none" stroke="#000" stroke-width="1.15" />
<polyline points="31,757.3 31.5,755.3 32,753.5 32.5,751.7 33,750 33.5,748.5 34,747 34.5,745.6 35,744.3 35.5,743 36,741.8 36.5,740.7 37,739.6 37.5,738.6 38,737.7 38.5,736.8 39,735.9 39.5,735.1 40,734.3 40.5,733.6 41,732.9 41.5,732.2 42,731.6 42.5,731 43,730.4 44.5,728.9 46,727.5 47.5,726.4 49,725.3 50.5,724.4 52,723.6 53.5,722.9 55,722.3 56.5,721.7 58,721.2 59.5,720.7 61,720.2 62.5,719.8 64,719.4 65.5,719.1 67,718.7 68.5,718.4 70,718.1 71,717.9 75,717.2 79,716.6 83,716 87,715.5 91,715 95,714.5 99,714.1 103,713.7 107,713.3 111,713 115,712.6 119,712.3 123,712 127,711.7 131,711.5 135,711.2 139,710.9 143,710.7 147,710.5 151,710.3 159,709.9 167,709.5 175,709.1 183,708.8 191,708.5 199,708.1 207,707.9 215,707.6 223,707.3 231,707.1 239,706.8 247,706.6 255,706.4 263,706.2 271,705.9 279,705.7 287,705.5 295,705.4 303,705.2 311,705 319,704.8 327,704.6 334.3,704.5" fill="none" stroke="#000" stroke-width="1.15" />
<polyline points="31,757.3 31.5,755.6 32,754.1 32.5,752.7 33,751.4 33.5,750.1 34,749 34.5,748 35,747 35.5,746.1 36,745.3 36.5,744.5 37,743.8 37.5,743.1 38,742.5 38.5,741.9 39,741.4 39.5,740.9 40,740.4 40.5,739.9 41,739.5 41.5,739.1 42,738.8 42.5,738.4 43,738.1 44.5,737.3 46,736.5 47.5,735.9 49,735.4 50.5,734.9 52,734.5 53.5,734.2 55,733.8 56.5,733.5 58,733.2 59.5,733 61,732.7 62.5,732.5 64,732.3 65.5,732.1 67,731.9 68.5,731.7 70,731.6 71,731.4 75,731 79,730.6 83,730.3 87,730 91,729.7 95,729.4 99,729.2 103,728.9 107,728.7 111,728.5 115,728.3 119,728.1 123,727.9 127,727.8 131,727.6 135,727.4 139,727.3 143,727.2 147,727 151,726.9 159,726.6 167,726.4 175,726.2 183,726 191,725.8 199,725.6 207,725.4 215,725.3 223,725.1 231,724.9 239,724.8 247,724.6 255,724.5 263,724.4 271,724.2 279,724.1 287,724 295,723.9 303,723.8 311,723.7 319,723.6 327,723.5 334.3,723.4" fill="none" stroke="#000" stroke-width="1.15" />
<polyline points="31,757.3 31.5,756.1 32,755.1 32.5,754.1 33,753.2 33.5,752.4 34,751.6 34.5,750.9 35,750.3 35.5,749.7 36,749.2 36.5,748.7 37,748.2 37.5,747.8 38,747.4 38.5,747.1 39,746.7 39.5,746.4 40,746.1 40.5,745.9 41,745.6 41.5,745.4 42,745.2 42.5,745 43,744.8 44.5,744.3 46,743.9 47.5,743.5 49,743.2 50.5,743 52,742.7 53.5,742.5 55,742.3 56.5,742.2 58,742 59.5,741.8 61,741.7 62.5,741.6 64,741.4 65.5,741.3 67,741.2 68.5,741.1 70,741 71,740.9 75,740.6 79,740.4 83,740.2 87,740 91,739.8 95,739.7 99,739.5 103,739.4 107,739.2 111,739.1 115,739 119,738.9 123,738.8 127,738.7 131,738.6 135,738.5 139,738.4 143,738.3 147,738.2 151,738.1 159,738 167,737.8 175,737.7 183,737.6 191,737.4 199,737.3 207,737.2 215,737.1 223,737 231,736.9 239,736.8 247,736.7 255,736.7 263,736.6 271,736.5 279,736.4 287,736.4 295,736.3 303,736.2 311,736.2 319,736.1 327,736 334.3,736" fill="none" stroke="#000" stroke-width="1.15" />
<polyline points="31,757.3 31.5,756.5 32,755.8 32.5,755.2 33,754.6 33.5,754 34,753.6 34.5,753.1 35,752.7 35.5,752.4 36,752 36.5,751.7 37,751.4 37.5,751.2 38,750.9 38.5,750.7 39,750.5 39.5,750.3 40,750.2 40.5,750 41,749.8 41.5,749.7 42,749.6 42.5,749.5 43,749.4 44.5,749.1 46,748.8 47.5,748.6 49,748.4 50.5,748.3 52,748.1 53.5,748 55,747.9 56.5,747.8 58,747.7 59.5,747.6 61,747.5 62.5,747.4 64,747.3 65.5,747.3 67,747.2 68.5,747.1 70,747 71,747 75,746.8 79,746.7 83,746.6 87,746.5 91,746.3 95,746.2 99,746.1 103,746.1 107,746 111,745.9 115,745.8 119,745.8 123,745.7 127,745.6 131,745.6 135,745.5 139,745.5 143,745.4 147,745.3 151,745.3 159,745.2 167,745.1 175,745 183,745 191,744.9 199,744.8 207,744.7 215,744.7 223,744.6 231,744.5 239,744.5 247,744.4 255,744.4 263,744.3 271,744.3 279,744.3 287,744.2 295,744.2 303,744.1 311,744.1 319,744.1 327,744 334.3,744" fill="none" stroke="#000" stroke-width="1.15" />
<polyline points="31,757.3 31.5,756.8 32,756.4 32.5,756 33,755.6 33.5,755.3 34,755 34.5,754.8 35,754.5 35.5,754.3 36,754.1 36.5,753.9 37,753.7 37.5,753.6 38,753.4 38.5,753.3 39,753.2 39.5,753.1 40,752.9 40.5,752.9 41,752.8 41.5,752.7 42,752.6 42.5,752.5 43,752.5 44.5,752.3 46,752.1 47.5,752 49,751.9 50.5,751.8 52,751.7 53.5,751.6 55,751.6 56.5,751.5 58,751.4 59.5,751.4 61,751.3 62.5,751.3 64,751.2 65.5,751.2 67,751.1 68.5,751.1 70,751.1 71,751 75,750.9 79,750.8 83,750.8 87,750.7 91,750.6 95,750.6 99,750.5 103,750.5 107,750.4 111,750.4 115,750.3 119,750.3 123,750.2 127,750.2 131,750.2 135,750.1 139,750.1 143,750.1 147,750 151,750 159,749.9 167,749.9 175,749.8 183,749.8 191,749.7 199,749.7 207,749.6 215,749.6 223,749.6 231,749.5 239,749.5 247,749.5 255,749.4 263,749.4 271,749.4 279,749.4 287,749.3 295,749.3 303,749.3 311,749.3 319,749.2 327,749.2 334.3,749.2" fill="none" stroke="#000" stroke-width="1.15" />
<polyline points="31,757.3 31.5,757.1 32,756.8 32.5,756.6 33,756.5 33.5,756.3 34,756.1 34.5,756 35,755.9 35.5,755.8 36,755.7 36.5,755.6 37,755.5 37.5,755.4 38,755.3 38.5,755.3 39,755.2 39.5,755.2 40,755.1 40.5,755 41,755 41.5,755 42,754.9 42.5,754.9 43,754.9 44.5,754.8 46,754.7 47.5,754.6 49,754.6 50.5,754.5 52,754.5 53.5,754.4 55,754.4 56.5,754.4 58,754.3 59.5,754.3 61,754.3 62.5,754.2 64,754.2 65.5,754.2 67,754.2 68.5,754.2 70,754.1 71,754.1 75,754.1 79,754 83,754 87,754 91,753.9 95,753.9 99,753.9 103,753.8 107,753.8 111,753.8 115,753.8 119,753.7 123,753.7 127,753.7 131,753.7 135,753.7 139,753.6 143,753.6 147,753.6 151,753.6 159,753.6 167,753.5 175,753.5 183,753.5 191,753.5 199,753.4 207,753.4 215,753.4 223,753.4 231,753.4 239,753.4 247,753.3 255,753.3 263,753.3 271,753.3 279,753.3 287,753.3 295,753.3 303,753.2 311,753.2 319,753.2 327,753.2 334.3,753.2" fill="none" stroke="#000" stroke-width="1.15" />
<polyline points="31,757.3 31.5,757.2 32,757.2 32.5,757.1 33,757.1 33.5,757 34,757 34.5,756.9 35,756.9 35.5,756.9 36,756.8 36.5,756.8 37,756.8 37.5,756.7 38,756.7 38.5,756.7 39,756.7 39.5,756.7 40,756.7 40.5,756.6 41,756.6 41.5,756.6 42,756.6 42.5,756.6 43,756.6 44.5,756.6 46,756.5 47.5,756.5 49,756.5 50.5,756.5 52,756.5 53.5,756.5 55,756.5 56.5,756.4 58,756.4 59.5,756.4 61,756.4 62.5,756.4 64,756.4 65.5,756.4 67,756.4 68.5,756.4 70,756.4 71,756.4 75,756.4 79,756.3 83,756.3 87,756.3 91,756.3 95,756.3 99,756.3 103,756.3 107,756.3 111,756.3 115,756.3 119,756.3 123,756.3 127,756.2 131,756.2 135,756.2 139,756.2 143,756.2 147,756.2 151,756.2 159,756.2 167,756.2 175,756.2 183,756.2 191,756.2 199,756.2 207,756.2 215,756.2 223,756.2 231,756.1 239,756.1 247,756.1 255,756.1 263,756.1 271,756.1 279,756.1 287,756.1 295,756.1 303,756.1 311,756.1 319,756.1 327,756.1 334.3,756.1" fill="none" stroke="#000" stroke-width="1.15" />
<polyline points="31,759 31.5,759 32,759 32.5,759 33,759 33.5,759 34,759 34.5,759 35,759 35.5,759 36,759 36.5,759 37,759 37.5,759 38,759 38.5,759 39,759 39.5,759 40,759 40.5,759 41,759 41.5,759 42,759 42.5,759 43,759 44.5,759 46,759 47.5,759 49,759 50.5,759 52,759 53.5,759 55,759 56.5,759 58,759 59.5,759 61,759 62.5,759 64,759 65.5,759 67,759 68.5,759 70,759 71,759 75,759 79,759 83,759 87,759 91,759 95,759 99,759 103,759 107,759 111,759 115,759 119,759 123,759 127,759 131,759 135,759 139,759 143,759 147,759 151,759 159,759 167,759 175,759 183,759 191,759 199,759 207,759 215,759 223,759 231,759 239,759 247,759 255,759 263,759 271,759 279,759 287,759 295,759 303,759 311,759 319,759 327,759 334.3,759" fill="none" stroke="#000" stroke-width="1.15" />
<polyline points="31,761.2 31.5,761.2 32,761.2 32.5,761.2 33,761.2 33.5,761.2 34,761.2 34.5,761.2 35,761.2 35.5,761.2 36,761.2 36.5,761.2 37,761.2 37.5,761.2 38,761.2 38.5,761.2 39,761.2 39.5,761.2 40,761.2 40.5,761.2 41,761.2 41.5,761.2 42,761.2 42.5,761.2 43,761.2 44.5,761.2 46,761.2 47.5,761.2 49,761.2 50.5,761.2 52,761.2 53.5,761.2 55,761.2 56.5,761.2 58,761.2 59.5,761.2 61,761.2 62.5,761.2 64,761.2 65.5,761.2 67,761.2 68.5,761.2 70,761.2 71,761.2 75,761.2 79,761.2 83,761.2 87,761.2 91,761.2 95,761.2 99,761.2 103,761.2 107,761.2 111,761.2 115,761.2 119,761.2 123,761.2 127,761.2 131,761.2 135,761.2 139,761.2 143,761.2 147,761.2 151,761.2 159,761.2 167,761.2 175,761.2 183,761.2 191,761.2 199,761.2 207,761.2 215,761.2 223,761.2 231,761.2 239,761.2 247,761.2 255,761.2 263,761.2 271,761.2 279,761.2 287,761.2 295,761.2 303,761.2 311,761.2 319,761.2 327,761.2 334.3,761.2" fill="none" stroke="#000" stroke-width="1.15" />
<polyline points="334.3,530.4 334.3,771.8" fill="none" stroke="#000" stroke-width="1.2" />
<polygon points="334.3,741.8 334.8,743.8 335.3,745.5 335.8,747 336.3,748.2 336.8,749.3 337.3,750.2 337.8,751 338.3,751.6 338.8,752.2 339.3,752.7 339.8,753.1 340.3,753.5 340.8,753.8 341.3,754.1 341.8,754.4 342.3,754.6 342.8,754.8 343.3,755 343.8,755.1 344.3,755.3 344.8,755.4 345.3,755.5 345.8,755.6 346.3,755.7 348.3,756 350.3,756.3 352.3,756.5 354.3,756.7 356.3,756.9 358.3,757 360.3,757.2 362.3,757.3 364.3,757.5 366.3,757.6 368.3,757.7 370.3,757.8 372.3,757.9 374.3,758 376.3,758.1 378.3,758.1 380.3,758.2 382.3,758.3 384.3,758.4 386.3,758.4 388.3,758.5 390.3,758.5 392.3,758.6 394.3,758.6 402.3,758.8 410.3,758.9 418.3,759 426.3,759.1 434.3,759.1 442.3,759.2 450.3,759.2 458.3,759.2 466.3,759.2 474.3,759.3 482.3,759.3 490.3,759.3 498.3,759.3 506.3,759.3 514.3,759.3 522.3,759.3 530.3,759.3 576.7,759.3 576.7,761.1 530.3,761.1 522.3,761.1 514.3,761.2 506.3,761.2 498.3,761.2 490.3,761.2 482.3,761.2 474.3,761.3 466.3,761.3 458.3,761.3 450.3,761.4 442.3,761.4 434.3,761.5 426.3,761.5 418.3,761.6 410.3,761.7 402.3,761.8 394.3,761.8 392.3,761.9 390.3,761.9 388.3,761.9 386.3,762 384.3,762 382.3,762 380.3,762 378.3,762.1 376.3,762.1 374.3,762.1 372.3,762.2 370.3,762.2 368.3,762.2 366.3,762.3 364.3,762.3 362.3,762.3 360.3,762.4 358.3,762.4 356.3,762.5 354.3,762.5 352.3,762.5 350.3,762.6 348.3,762.6 346.3,762.7 345.8,762.7 345.3,762.7 344.8,762.7 344.3,762.7 343.8,762.7 343.3,762.8 342.8,762.8 342.3,762.8 341.8,762.8 341.3,762.8 340.8,762.8 340.3,762.8 339.8,762.8 339.3,762.9 338.8,762.9 338.3,762.9 337.8,762.9 337.3,762.9 336.8,762.9 336.3,762.9 335.8,763 335.3,763 334.8,763 334.3,763" fill="#000"/>
</g>
<g id="panel-d">
<text x="743.93" y="465.3" font-size="37.33" font-weight="700">d</text>
<path d="M841.3 431V821.6M833.2 789H1323.2" stroke="#000" stroke-width="2.8" fill="none"/>
<path d="M833.2 789H841M833.2 626.2H841M833.2 463.4H841M837.3 707.6H841M837.3 544.8H841M881 789V796.6M961.1 789V796.6M1041.2 789V796.6M1121.3 789V796.6M1201.4 789V796.6M1281.5 789V796.6M921.1 789V793.2M1001.2 789V793.2M1081.2 789V793.2M1161.4 789V793.2M1241.5 789V793.2M1321.6 789V793.2" stroke="#000" stroke-width="2.8" fill="none"/>
<text x="828.4" y="796.8" font-size="24" text-anchor="end" >0.0</text>
<text x="828.4" y="634" font-size="24" text-anchor="end" >0.5</text>
<text x="828.4" y="471.2" font-size="24" text-anchor="end" >1.0</text>
<text x="881" y="820.8" font-size="24" text-anchor="middle" >-100</text>
<text x="961.1" y="820.8" font-size="24" text-anchor="middle" >-50</text>
<text x="1041.2" y="820.8" font-size="24" text-anchor="middle" >0</text>
<text x="1121.3" y="820.8" font-size="24" text-anchor="middle" >50</text>
<text x="1201.4" y="820.8" font-size="24" text-anchor="middle" >100</text>
<text x="1281.5" y="820.8" font-size="24" text-anchor="middle" >150</text>
<text x="987.85" y="856.1" font-size="32">Voltage (mV)</text>
<text transform="translate(780.7 708.65) rotate(-90)" font-size="32">Normalized I</text>
<g stroke="#000000" fill="#000000">
<path d="M961.1 774.3V786.7M957.5 774.3h7.2M957.5 786.7h7.2" fill="none" stroke-width="1.7"/>
<path d="M977.1 735.1V770.9M973.5 735.1h7.2M973.5 770.9h7.2" fill="none" stroke-width="1.7"/>
<path d="M993.1 664.6V721.9M989.5 664.6h7.2M989.5 721.9h7.2" fill="none" stroke-width="1.7"/>
<path d="M1009.2 566.9V621M1005.6 566.9h7.2M1005.6 621h7.2" fill="none" stroke-width="1.7"/>
<path d="M1025.2 489.9V504.9M1021.6 489.9h7.2M1021.6 504.9h7.2" fill="none" stroke-width="1.7"/>
<path d="M1057.2 469.7V523.7M1053.6 469.7h7.2M1053.6 523.7h7.2" fill="none" stroke-width="1.7"/>
<path d="M1073.2 512.1V625.7M1069.6 512.1h7.2M1069.6 625.7h7.2" fill="none" stroke-width="1.7"/>
<path d="M1089.3 598.8V707.6M1085.7 598.8h7.2M1085.7 707.6h7.2" fill="none" stroke-width="1.7"/>
<path d="M1105.3 716.9V738.7M1101.7 716.9h7.2M1101.7 738.7h7.2" fill="none" stroke-width="1.7"/>
<path d="M1121.3 749.1V756.9M1117.7 749.1h7.2M1117.7 756.9h7.2" fill="none" stroke-width="1.7"/>
<path d="M1137.3 758.2V762.1M1133.7 758.2h7.2M1133.7 762.1h7.2" fill="none" stroke-width="1.7"/>
<polyline points="881,787.4 897,787 913,787.4 929.1,787.7 945.1,788 961.1,780.5 977.1,753 993.1,693.3 1009.2,594 1025.2,497.4 1041.2,463.4 1057.2,496.7 1073.2,568.9 1089.3,653.2 1105.3,727.8 1121.3,753 1137.3,760.2" fill="none" stroke-width="2.2" stroke-linejoin="round"/>
<rect x="877" y="783.4" width="8" height="8" stroke="none"/>
<rect x="893" y="783" width="8" height="8" stroke="none"/>
<rect x="909" y="783.4" width="8" height="8" stroke="none"/>
<rect x="925.1" y="783.7" width="8" height="8" stroke="none"/>
<rect x="941.1" y="784" width="8" height="8" stroke="none"/>
<rect x="957.1" y="776.5" width="8" height="8" stroke="none"/>
<rect x="973.1" y="749" width="8" height="8" stroke="none"/>
<rect x="989.1" y="689.3" width="8" height="8" stroke="none"/>
<rect x="1005.2" y="590" width="8" height="8" stroke="none"/>
<rect x="1021.2" y="493.4" width="8" height="8" stroke="none"/>
<rect x="1037.2" y="459.4" width="8" height="8" stroke="none"/>
<rect x="1053.2" y="492.7" width="8" height="8" stroke="none"/>
<rect x="1069.2" y="564.9" width="8" height="8" stroke="none"/>
<rect x="1085.3" y="649.2" width="8" height="8" stroke="none"/>
<rect x="1101.3" y="723.8" width="8" height="8" stroke="none"/>
<rect x="1117.3" y="749" width="8" height="8" stroke="none"/>
<rect x="1133.3" y="756.2" width="8" height="8" stroke="none"/>
</g>
<g stroke="#a6142f" fill="#a6142f">
<path d="M961.1 787.4V791.3M957.5 787.4h7.2M957.5 791.3h7.2" fill="none" stroke-width="1.7"/>
<path d="M977.1 786.1V790.6M973.5 786.1h7.2M973.5 790.6h7.2" fill="none" stroke-width="1.7"/>
<path d="M993.1 783.1V788.3M989.5 783.1h7.2M989.5 788.3h7.2" fill="none" stroke-width="1.7"/>
<path d="M1009.2 780.5V786.4M1005.6 780.5h7.2M1005.6 786.4h7.2" fill="none" stroke-width="1.7"/>
<path d="M1025.2 777.4V784M1021.6 777.4h7.2M1021.6 784h7.2" fill="none" stroke-width="1.7"/>
<path d="M1041.2 774.7V781.8M1037.6 774.7h7.2M1037.6 781.8h7.2" fill="none" stroke-width="1.7"/>
<path d="M1057.2 771.1V778.9M1053.6 771.1h7.2M1053.6 778.9h7.2" fill="none" stroke-width="1.7"/>
<path d="M1073.2 766.9V775.3M1069.6 766.9h7.2M1069.6 775.3h7.2" fill="none" stroke-width="1.7"/>
<path d="M1089.3 761.7V770.9M1085.7 761.7h7.2M1085.7 770.9h7.2" fill="none" stroke-width="1.7"/>
<path d="M1105.3 755.1V764.3M1101.7 755.1h7.2M1101.7 764.3h7.2" fill="none" stroke-width="1.7"/>
<path d="M1121.3 745.2V755.6M1117.7 745.2h7.2M1117.7 755.6h7.2" fill="none" stroke-width="1.7"/>
<path d="M1137.3 729.9V741.6M1133.7 729.9h7.2M1133.7 741.6h7.2" fill="none" stroke-width="1.7"/>
<path d="M1153.3 708.6V721.6M1149.7 708.6h7.2M1149.7 721.6h7.2" fill="none" stroke-width="1.7"/>
<path d="M1169.4 678.3V694.6M1165.8 678.3h7.2M1165.8 694.6h7.2" fill="none" stroke-width="1.7"/>
<path d="M1185.4 648.3V664.6M1181.8 648.3h7.2M1181.8 664.6h7.2" fill="none" stroke-width="1.7"/>
<path d="M1201.4 612.2V631.1M1197.8 612.2h7.2M1197.8 631.1h7.2" fill="none" stroke-width="1.7"/>
<path d="M1217.4 578.3V597.9M1213.8 578.3h7.2M1213.8 597.9h7.2" fill="none" stroke-width="1.7"/>
<path d="M1233.4 546.5V563.5M1229.8 546.5h7.2M1229.8 563.5h7.2" fill="none" stroke-width="1.7"/>
<path d="M1249.5 517.3V530.3M1245.9 517.3h7.2M1245.9 530.3h7.2" fill="none" stroke-width="1.7"/>
<path d="M1265.5 490.4V496.9M1261.9 490.4h7.2M1261.9 496.9h7.2" fill="none" stroke-width="1.7"/>
<polyline points="881,792.6 897,791.9 913,791.3 929.1,790.6 945.1,790 961.1,789.3 977.1,788.3 993.1,785.7 1009.2,783.5 1025.2,780.7 1041.2,778.3 1057.2,775 1073.2,771.1 1089.3,766.3 1105.3,759.7 1121.3,750.4 1137.3,735.8 1153.3,715.1 1169.4,686.4 1185.4,656.5 1201.4,621.6 1217.4,588.1 1233.4,555 1249.5,523.8 1265.5,493.7 1281.5,463.4" fill="none" stroke-width="2.2" stroke-linejoin="round"/>
<rect x="877" y="788.6" width="8" height="8" stroke="none"/>
<rect x="893" y="787.9" width="8" height="8" stroke="none"/>
<rect x="909" y="787.3" width="8" height="8" stroke="none"/>
<rect x="925.1" y="786.6" width="8" height="8" stroke="none"/>
<rect x="941.1" y="786" width="8" height="8" stroke="none"/>
<rect x="957.1" y="785.3" width="8" height="8" stroke="none"/>
<rect x="973.1" y="784.3" width="8" height="8" stroke="none"/>
<rect x="989.1" y="781.7" width="8" height="8" stroke="none"/>
<rect x="1005.2" y="779.5" width="8" height="8" stroke="none"/>
<rect x="1021.2" y="776.7" width="8" height="8" stroke="none"/>
<rect x="1037.2" y="774.3" width="8" height="8" stroke="none"/>
<rect x="1053.2" y="771" width="8" height="8" stroke="none"/>
<rect x="1069.2" y="767.1" width="8" height="8" stroke="none"/>
<rect x="1085.3" y="762.3" width="8" height="8" stroke="none"/>
<rect x="1101.3" y="755.7" width="8" height="8" stroke="none"/>
<rect x="1117.3" y="746.4" width="8" height="8" stroke="none"/>
<rect x="1133.3" y="731.8" width="8" height="8" stroke="none"/>
<rect x="1149.3" y="711.1" width="8" height="8" stroke="none"/>
<rect x="1165.4" y="682.4" width="8" height="8" stroke="none"/>
<rect x="1181.4" y="652.5" width="8" height="8" stroke="none"/>
<rect x="1197.4" y="617.6" width="8" height="8" stroke="none"/>
<rect x="1213.4" y="584.1" width="8" height="8" stroke="none"/>
<rect x="1229.4" y="551" width="8" height="8" stroke="none"/>
<rect x="1245.5" y="519.8" width="8" height="8" stroke="none"/>
<rect x="1261.5" y="489.7" width="8" height="8" stroke="none"/>
<rect x="1277.5" y="459.4" width="8" height="8" stroke="none"/>
</g>
<g stroke="#0a72c4" fill="#0a72c4">
<path d="M881 786.7V810.8M877.4 786.7h7.2M877.4 810.8h7.2" fill="none" stroke-width="1.7"/>
<path d="M897 788.7V805.6M893.4 788.7h7.2M893.4 805.6h7.2" fill="none" stroke-width="1.7"/>
<path d="M913 787.4V802.3M909.4 787.4h7.2M909.4 802.3h7.2" fill="none" stroke-width="1.7"/>
<path d="M929.1 787.5V799.3M925.5 787.5h7.2M925.5 799.3h7.2" fill="none" stroke-width="1.7"/>
<path d="M945.1 787V796.8M941.5 787h7.2M941.5 796.8h7.2" fill="none" stroke-width="1.7"/>
<path d="M961.1 784.8V792.6M957.5 784.8h7.2M957.5 792.6h7.2" fill="none" stroke-width="1.7"/>
<path d="M977.1 783.3V792.1M973.5 783.3h7.2M973.5 792.1h7.2" fill="none" stroke-width="1.7"/>
<path d="M993.1 780.3V789.9M989.5 780.3h7.2M989.5 789.9h7.2" fill="none" stroke-width="1.7"/>
<path d="M1009.2 777.5V788.1M1005.6 777.5h7.2M1005.6 788.1h7.2" fill="none" stroke-width="1.7"/>
<path d="M1025.2 774.3V785.8M1021.6 774.3h7.2M1021.6 785.8h7.2" fill="none" stroke-width="1.7"/>
<path d="M1041.2 771.4V783.8M1037.6 771.4h7.2M1037.6 783.8h7.2" fill="none" stroke-width="1.7"/>
<path d="M1057.2 767.7V781M1053.6 767.7h7.2M1053.6 781h7.2" fill="none" stroke-width="1.7"/>
<path d="M1073.2 763.3V777.5M1069.6 763.3h7.2M1069.6 777.5h7.2" fill="none" stroke-width="1.7"/>
<path d="M1089.3 758.1V773.2M1085.7 758.1h7.2M1085.7 773.2h7.2" fill="none" stroke-width="1.7"/>
<path d="M1105.3 751.9V770.1M1101.7 751.9h7.2M1101.7 770.1h7.2" fill="none" stroke-width="1.7"/>
<path d="M1121.3 741.6V761.8M1117.7 741.6h7.2M1117.7 761.8h7.2" fill="none" stroke-width="1.7"/>
<path d="M1137.3 725.1V749.1M1133.7 725.1h7.2M1133.7 749.1h7.2" fill="none" stroke-width="1.7"/>
<path d="M1153.3 700.5V731.1M1149.7 700.5h7.2M1149.7 731.1h7.2" fill="none" stroke-width="1.7"/>
<path d="M1169.4 660V704M1165.8 660h7.2M1165.8 704h7.2" fill="none" stroke-width="1.7"/>
<path d="M1185.4 611.6V655.9M1181.8 611.6h7.2M1181.8 655.9h7.2" fill="none" stroke-width="1.7"/>
<path d="M1201.4 560.6V595.8M1197.8 560.6h7.2M1197.8 595.8h7.2" fill="none" stroke-width="1.7"/>
<path d="M1217.4 510.6V530.1M1213.8 510.6h7.2M1213.8 530.1h7.2" fill="none" stroke-width="1.7"/>
<polyline points="881,798.8 897,797.1 913,794.9 929.1,793.4 945.1,791.9 961.1,788.7 977.1,787.7 993.1,785.1 1009.2,782.8 1025.2,780 1041.2,777.6 1057.2,774.3 1073.2,770.4 1089.3,765.7 1105.3,761 1121.3,751.7 1137.3,737.1 1153.3,715.8 1169.4,682 1185.4,633.8 1201.4,578.2 1217.4,520.4 1233.4,463.4" fill="none" stroke-width="2.2" stroke-linejoin="round"/>
<rect x="877" y="794.8" width="8" height="8" stroke="none"/>
<rect x="893" y="793.1" width="8" height="8" stroke="none"/>
<rect x="909" y="790.9" width="8" height="8" stroke="none"/>
<rect x="925.1" y="789.4" width="8" height="8" stroke="none"/>
<rect x="941.1" y="787.9" width="8" height="8" stroke="none"/>
<rect x="957.1" y="784.7" width="8" height="8" stroke="none"/>
<rect x="973.1" y="783.7" width="8" height="8" stroke="none"/>
<rect x="989.1" y="781.1" width="8" height="8" stroke="none"/>
<rect x="1005.2" y="778.8" width="8" height="8" stroke="none"/>
<rect x="1021.2" y="776" width="8" height="8" stroke="none"/>
<rect x="1037.2" y="773.6" width="8" height="8" stroke="none"/>
<rect x="1053.2" y="770.3" width="8" height="8" stroke="none"/>
<rect x="1069.2" y="766.4" width="8" height="8" stroke="none"/>
<rect x="1085.3" y="761.7" width="8" height="8" stroke="none"/>
<rect x="1101.3" y="757" width="8" height="8" stroke="none"/>
<rect x="1117.3" y="747.7" width="8" height="8" stroke="none"/>
<rect x="1133.3" y="733.1" width="8" height="8" stroke="none"/>
<rect x="1149.3" y="711.8" width="8" height="8" stroke="none"/>
<rect x="1165.4" y="678" width="8" height="8" stroke="none"/>
<rect x="1181.4" y="629.8" width="8" height="8" stroke="none"/>
<rect x="1197.4" y="574.2" width="8" height="8" stroke="none"/>
<rect x="1213.4" y="516.4" width="8" height="8" stroke="none"/>
<rect x="1229.4" y="459.4" width="8" height="8" stroke="none"/>
</g>
<g stroke="#7ab532" fill="#7ab532">
<path d="M881 793.2V799.7M877.4 793.2h7.2M877.4 799.7h7.2" fill="none" stroke-width="1.7"/>
<path d="M897 792.9V798.1M893.4 792.9h7.2M893.4 798.1h7.2" fill="none" stroke-width="1.7"/>
<path d="M913 791.7V795.6M909.4 791.7h7.2M909.4 795.6h7.2" fill="none" stroke-width="1.7"/>
<path d="M929.1 791V794.2M925.5 791h7.2M925.5 794.2h7.2" fill="none" stroke-width="1.7"/>
<path d="M961.1 788.3V792.3M957.5 788.3h7.2M957.5 792.3h7.2" fill="none" stroke-width="1.7"/>
<path d="M977.1 787.1V791.5M973.5 787.1h7.2M973.5 791.5h7.2" fill="none" stroke-width="1.7"/>
<path d="M993.1 784.2V789.2M989.5 784.2h7.2M989.5 789.2h7.2" fill="none" stroke-width="1.7"/>
<path d="M1009.2 781.7V787.2M1005.6 781.7h7.2M1005.6 787.2h7.2" fill="none" stroke-width="1.7"/>
<path d="M1025.2 778.7V784.7M1021.6 778.7h7.2M1021.6 784.7h7.2" fill="none" stroke-width="1.7"/>
<path d="M1041.2 776V782.5M1037.6 776h7.2M1037.6 782.5h7.2" fill="none" stroke-width="1.7"/>
<path d="M1057.2 772.5V779.5M1053.6 772.5h7.2M1053.6 779.5h7.2" fill="none" stroke-width="1.7"/>
<path d="M1073.2 768.3V775.8M1069.6 768.3h7.2M1069.6 775.8h7.2" fill="none" stroke-width="1.7"/>
<path d="M1089.3 763.2V771.3M1085.7 763.2h7.2M1085.7 771.3h7.2" fill="none" stroke-width="1.7"/>
<path d="M1105.3 758.8V768.6M1101.7 758.8h7.2M1101.7 768.6h7.2" fill="none" stroke-width="1.7"/>
<path d="M1121.3 749.6V759.4M1117.7 749.6h7.2M1117.7 759.4h7.2" fill="none" stroke-width="1.7"/>
<path d="M1137.3 739.7V751.5M1133.7 739.7h7.2M1133.7 751.5h7.2" fill="none" stroke-width="1.7"/>
<path d="M1153.3 726.5V734.3M1149.7 726.5h7.2M1149.7 734.3h7.2" fill="none" stroke-width="1.7"/>
<path d="M1169.4 704.8V714.6M1165.8 704.8h7.2M1165.8 714.6h7.2" fill="none" stroke-width="1.7"/>
<path d="M1185.4 673.9V692.8M1181.8 673.9h7.2M1181.8 692.8h7.2" fill="none" stroke-width="1.7"/>
<path d="M1201.4 639.9V664M1197.8 639.9h7.2M1197.8 664h7.2" fill="none" stroke-width="1.7"/>
<path d="M1217.4 604.7V630.8M1213.8 604.7h7.2M1213.8 630.8h7.2" fill="none" stroke-width="1.7"/>
<path d="M1233.4 570.1V594.6M1229.8 570.1h7.2M1229.8 594.6h7.2" fill="none" stroke-width="1.7"/>
<path d="M1249.5 535.7V555.9M1245.9 535.7h7.2M1245.9 555.9h7.2" fill="none" stroke-width="1.7"/>
<path d="M1265.5 499.9V514.3M1261.9 499.9h7.2M1261.9 514.3h7.2" fill="none" stroke-width="1.7"/>
<polyline points="881,796.5 897,795.5 913,793.7 929.1,792.6 945.1,791.3 961.1,790.3 977.1,789.3 993.1,786.7 1009.2,784.4 1025.2,781.7 1041.2,779.2 1057.2,776 1073.2,772.1 1089.3,767.3 1105.3,763.7 1121.3,754.5 1137.3,745.6 1153.3,730.4 1169.4,709.7 1185.4,683.3 1201.4,651.9 1217.4,617.7 1233.4,582.4 1249.5,545.8 1265.5,507.1 1281.5,463.4" fill="none" stroke-width="2.2" stroke-linejoin="round"/>
<rect x="877" y="792.5" width="8" height="8" stroke="none"/>
<rect x="893" y="791.5" width="8" height="8" stroke="none"/>
<rect x="909" y="789.7" width="8" height="8" stroke="none"/>
<rect x="925.1" y="788.6" width="8" height="8" stroke="none"/>
<rect x="941.1" y="787.3" width="8" height="8" stroke="none"/>
<rect x="957.1" y="786.3" width="8" height="8" stroke="none"/>
<rect x="973.1" y="785.3" width="8" height="8" stroke="none"/>
<rect x="989.1" y="782.7" width="8" height="8" stroke="none"/>
<rect x="1005.2" y="780.4" width="8" height="8" stroke="none"/>
<rect x="1021.2" y="777.7" width="8" height="8" stroke="none"/>
<rect x="1037.2" y="775.2" width="8" height="8" stroke="none"/>
<rect x="1053.2" y="772" width="8" height="8" stroke="none"/>
<rect x="1069.2" y="768.1" width="8" height="8" stroke="none"/>
<rect x="1085.3" y="763.3" width="8" height="8" stroke="none"/>
<rect x="1101.3" y="759.7" width="8" height="8" stroke="none"/>
<rect x="1117.3" y="750.5" width="8" height="8" stroke="none"/>
<rect x="1133.3" y="741.6" width="8" height="8" stroke="none"/>
<rect x="1149.3" y="726.4" width="8" height="8" stroke="none"/>
<rect x="1165.4" y="705.7" width="8" height="8" stroke="none"/>
<rect x="1181.4" y="679.3" width="8" height="8" stroke="none"/>
<rect x="1197.4" y="647.9" width="8" height="8" stroke="none"/>
<rect x="1213.4" y="613.7" width="8" height="8" stroke="none"/>
<rect x="1229.4" y="578.4" width="8" height="8" stroke="none"/>
<rect x="1245.5" y="541.8" width="8" height="8" stroke="none"/>
<rect x="1261.5" y="503.1" width="8" height="8" stroke="none"/>
<rect x="1277.5" y="459.4" width="8" height="8" stroke="none"/>
</g>
<path d="M863 447.8H906.6" stroke="#000000" stroke-width="2.3"/>
<rect x="881" y="443.8" width="8" height="8" fill="#000000"/>
<text x="913.3" y="455.3" font-size="21.33" text-anchor="start" >WT</text>
<path d="M863 474.1H906.6" stroke="#a6142f" stroke-width="2.3"/>
<rect x="881" y="470.1" width="8" height="8" fill="#a6142f"/>
<text x="913.3" y="481.6" font-size="21.33" text-anchor="start" >W568L</text>
<path d="M863 500.3H906.6" stroke="#0a72c4" stroke-width="2.3"/>
<rect x="881" y="496.3" width="8" height="8" fill="#0a72c4"/>
<text x="913.3" y="507.8" font-size="21.33" text-anchor="start" >Y616L</text>
<path d="M863 526.6H906.6" stroke="#7ab532" stroke-width="2.3"/>
<rect x="881" y="522.6" width="8" height="8" fill="#7ab532"/>
<text x="913.3" y="534.1" font-size="21.33" text-anchor="start" >F617L</text>
</g>
</svg></body></html>
